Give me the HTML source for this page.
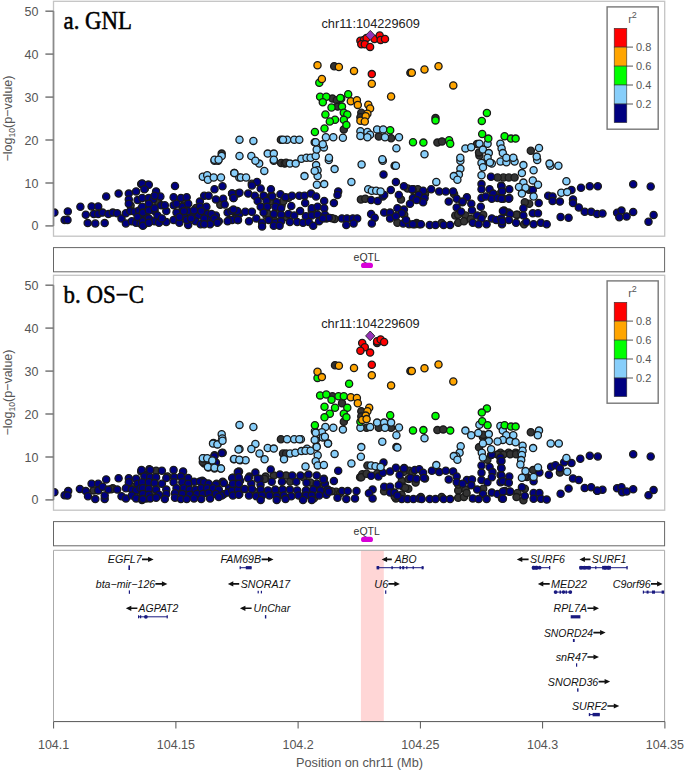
<!DOCTYPE html>
<html><head><meta charset="utf-8"><style>
html,body{margin:0;padding:0;background:#fff;}
svg{display:block;}
text{font-family:"Liberation Sans",sans-serif;}
.ax{font-size:12.5px;fill:#555;}
.ax2{font-size:12.6px;fill:#222;}
.lg{font-size:11px;fill:#555;}
.eq{font-size:10.5px;fill:#333;}
.ttl{font-family:"Liberation Serif",serif;font-size:24.5px;fill:#000;stroke:#000;stroke-width:0.5px;}
.gn{font-size:10.5px;font-style:italic;fill:#111;}
circle{stroke:#1a1a1a;stroke-width:1.3;}
</style></head><body>
<svg width="685" height="771" viewBox="0 0 685 771">
<rect x="53.5" y="1.3" width="611.2" height="234.9" fill="none" stroke="#c4c4c4" stroke-width="1.3"/>
<line x1="53.5" y1="225.9" x2="53.5" y2="11.200000000000017" stroke="#8a8a8a" stroke-width="1.7"/>
<line x1="45.4" y1="225.9" x2="53.5" y2="225.9" stroke="#777" stroke-width="1.5"/>
<text x="38.5" y="230.4" text-anchor="end" class="ax">0</text>
<line x1="45.4" y1="183.0" x2="53.5" y2="183.0" stroke="#777" stroke-width="1.5"/>
<text x="38.5" y="187.5" text-anchor="end" class="ax">10</text>
<line x1="45.4" y1="140.0" x2="53.5" y2="140.0" stroke="#777" stroke-width="1.5"/>
<text x="38.5" y="144.5" text-anchor="end" class="ax">20</text>
<line x1="45.4" y1="97.1" x2="53.5" y2="97.1" stroke="#777" stroke-width="1.5"/>
<text x="38.5" y="101.6" text-anchor="end" class="ax">30</text>
<line x1="45.4" y1="54.1" x2="53.5" y2="54.1" stroke="#777" stroke-width="1.5"/>
<text x="38.5" y="58.6" text-anchor="end" class="ax">40</text>
<line x1="45.4" y1="11.2" x2="53.5" y2="11.2" stroke="#777" stroke-width="1.5"/>
<text x="38.5" y="15.7" text-anchor="end" class="ax">50</text>
<text transform="translate(12.3,118.5) rotate(-90)" text-anchor="middle" class="ax">−log<tspan font-size="8.5" dy="3">10</tspan><tspan dy="-3">(p−value)</tspan></text>
<text x="63.6" y="28.5" class="ttl" textLength="68.4" lengthAdjust="spacingAndGlyphs">a. GNL</text>
<rect x="607.1" y="6.9" width="51.10000000000002" height="122.29999999999998" fill="none" stroke="#777" stroke-width="1.4"/>
<rect x="614.2" y="28.3" width="12.6" height="18.8" fill="#FF0000" stroke="#333" stroke-width="0.6"/>
<rect x="614.2" y="47.1" width="12.6" height="18.999999999999993" fill="#FFA500" stroke="#333" stroke-width="0.6"/>
<rect x="614.2" y="66.1" width="12.6" height="18.900000000000006" fill="#00FF00" stroke="#333" stroke-width="0.6"/>
<rect x="614.2" y="85" width="12.6" height="19" fill="#87CEFA" stroke="#333" stroke-width="0.6"/>
<rect x="614.2" y="104" width="12.6" height="18.599999999999994" fill="#000080" stroke="#333" stroke-width="0.6"/>
<line x1="626.8" y1="47.1" x2="633" y2="47.1" stroke="#555" stroke-width="1"/>
<text x="636" y="51.1" class="lg">0.8</text>
<line x1="626.8" y1="66.1" x2="633" y2="66.1" stroke="#555" stroke-width="1"/>
<text x="636" y="70.1" class="lg">0.6</text>
<line x1="626.8" y1="85" x2="633" y2="85" stroke="#555" stroke-width="1"/>
<text x="636" y="89.0" class="lg">0.4</text>
<line x1="626.8" y1="104" x2="633" y2="104" stroke="#555" stroke-width="1"/>
<text x="636" y="108.0" class="lg">0.2</text>
<text x="628.2" y="23.3" class="lg">r<tspan font-size="9" dy="-5.5">2</tspan></text>
<clipPath id="clip0"><rect x="54.3" y="1.3" width="610.3" height="234.9"/></clipPath><g clip-path="url(#clip0)">
<circle cx="281.1" cy="162.9" r="3.6" fill="#333333"/>
<circle cx="284.7" cy="163.6" r="3.6" fill="#333333"/>
<circle cx="360.9" cy="199.4" r="3.6" fill="#333333"/>
<circle cx="365.3" cy="198.7" r="3.6" fill="#333333"/>
<circle cx="407.6" cy="188.5" r="3.6" fill="#333333"/>
<circle cx="413.4" cy="189.2" r="3.6" fill="#333333"/>
<circle cx="417.8" cy="189.2" r="3.6" fill="#333333"/>
<circle cx="401.0" cy="199.4" r="3.6" fill="#333333"/>
<circle cx="334.6" cy="219.1" r="3.6" fill="#333333"/>
<circle cx="397.4" cy="222.8" r="3.6" fill="#333333"/>
<circle cx="503.4" cy="177.5" r="3.6" fill="#333333"/>
<circle cx="455.3" cy="215.5" r="3.6" fill="#333333"/>
<circle cx="465.5" cy="215.5" r="3.6" fill="#333333"/>
<circle cx="458.2" cy="222.8" r="3.6" fill="#333333"/>
<circle cx="464.0" cy="221.3" r="3.6" fill="#333333"/>
<circle cx="497.6" cy="177.5" r="3.6" fill="#333333"/>
<circle cx="508.8" cy="177.5" r="3.6" fill="#333333"/>
<circle cx="514.6" cy="177.5" r="3.6" fill="#333333"/>
<circle cx="529.2" cy="203.8" r="3.6" fill="#333333"/>
<circle cx="517.5" cy="214.7" r="3.6" fill="#333333"/>
<circle cx="524.1" cy="224.2" r="3.6" fill="#333333"/>
<circle cx="280.9" cy="139.7" r="3.6" fill="#333333"/>
<circle cx="221.7" cy="153.6" r="3.6" fill="#333333"/>
<circle cx="286.1" cy="162.8" r="3.6" fill="#333333"/>
<circle cx="314.7" cy="142.3" r="3.6" fill="#333333"/>
<circle cx="334.2" cy="66.2" r="3.6" fill="#333333"/>
<circle cx="410.4" cy="72.7" r="3.6" fill="#333333"/>
<circle cx="332.4" cy="98.6" r="3.6" fill="#333333"/>
<circle cx="336.8" cy="100.3" r="3.6" fill="#333333"/>
<circle cx="337.7" cy="106.6" r="3.6" fill="#333333"/>
<circle cx="343.8" cy="129.4" r="3.6" fill="#333333"/>
<circle cx="361.3" cy="112.8" r="3.6" fill="#333333"/>
<circle cx="360.4" cy="117.2" r="3.6" fill="#333333"/>
<circle cx="378.8" cy="136.4" r="3.6" fill="#333333"/>
<circle cx="391.1" cy="138.2" r="3.6" fill="#333333"/>
<circle cx="394.6" cy="165.7" r="3.6" fill="#333333"/>
<circle cx="435.5" cy="118.1" r="3.6" fill="#333333"/>
<circle cx="437.4" cy="142.6" r="3.6" fill="#333333"/>
<circle cx="442.0" cy="141.4" r="3.6" fill="#333333"/>
<circle cx="479.4" cy="155.4" r="3.6" fill="#333333"/>
<circle cx="530.8" cy="150.8" r="3.6" fill="#333333"/>
<circle cx="158.2" cy="202.3" r="3.6" fill="#333333"/>
<circle cx="479.0" cy="152.4" r="3.6" fill="#333333"/>
<circle cx="483.2" cy="162.8" r="3.6" fill="#333333"/>
<circle cx="477.0" cy="144.1" r="3.6" fill="#333333"/>
<circle cx="454.1" cy="194.0" r="3.6" fill="#333333"/>
<circle cx="462.4" cy="202.3" r="3.6" fill="#333333"/>
<circle cx="458.2" cy="214.8" r="3.6" fill="#333333"/>
<circle cx="470.7" cy="219.0" r="3.6" fill="#333333"/>
<circle cx="483.2" cy="214.8" r="3.6" fill="#333333"/>
<circle cx="412.5" cy="189.8" r="3.6" fill="#333333"/>
<circle cx="425.0" cy="194.0" r="3.6" fill="#333333"/>
<circle cx="404.2" cy="214.8" r="3.6" fill="#333333"/>
<circle cx="416.6" cy="223.1" r="3.6" fill="#333333"/>
<circle cx="441.6" cy="223.1" r="3.6" fill="#333333"/>
<circle cx="499.8" cy="194.0" r="3.6" fill="#333333"/>
<circle cx="504.0" cy="210.6" r="3.6" fill="#333333"/>
<circle cx="516.5" cy="214.8" r="3.6" fill="#333333"/>
<circle cx="524.8" cy="202.3" r="3.6" fill="#333333"/>
<circle cx="529.0" cy="189.8" r="3.6" fill="#333333"/>
<circle cx="180.9" cy="213.2" r="3.6" fill="#333333"/>
<circle cx="196.0" cy="208.1" r="3.6" fill="#333333"/>
<circle cx="271.6" cy="195.5" r="3.6" fill="#333333"/>
<circle cx="281.6" cy="205.6" r="3.6" fill="#333333"/>
<circle cx="266.5" cy="215.7" r="3.6" fill="#333333"/>
<circle cx="216.2" cy="220.7" r="3.6" fill="#333333"/>
<circle cx="150.7" cy="220.7" r="3.6" fill="#333333"/>
<circle cx="130.6" cy="205.6" r="3.6" fill="#333333"/>
<circle cx="311.8" cy="210.6" r="3.6" fill="#333333"/>
<circle cx="332.0" cy="218.2" r="3.6" fill="#333333"/>
<circle cx="264.1" cy="196.1" r="3.6" fill="#333333"/>
<circle cx="271.1" cy="201.3" r="3.6" fill="#333333"/>
<circle cx="278.1" cy="210.1" r="3.6" fill="#333333"/>
<circle cx="285.1" cy="217.1" r="3.6" fill="#333333"/>
<circle cx="274.6" cy="220.6" r="3.6" fill="#333333"/>
<circle cx="267.6" cy="213.6" r="3.6" fill="#333333"/>
<circle cx="288.6" cy="197.8" r="3.6" fill="#333333"/>
<circle cx="283.4" cy="201.3" r="3.6" fill="#333333"/>
<circle cx="251.8" cy="183.8" r="3.6" fill="#333333"/>
<circle cx="183.5" cy="199.6" r="3.6" fill="#333333"/>
<circle cx="220.3" cy="204.8" r="3.6" fill="#333333"/>
<circle cx="190.5" cy="213.6" r="3.6" fill="#333333"/>
<circle cx="54.4" cy="212.6" r="3.6" fill="#000080"/>
<circle cx="67.8" cy="211.4" r="3.6" fill="#000080"/>
<circle cx="64.6" cy="219.9" r="3.6" fill="#000080"/>
<circle cx="67.5" cy="219.9" r="3.6" fill="#000080"/>
<circle cx="80.4" cy="206.7" r="3.6" fill="#000080"/>
<circle cx="85.8" cy="214.7" r="3.6" fill="#000080"/>
<circle cx="87.7" cy="223.1" r="3.6" fill="#000080"/>
<circle cx="91.6" cy="206.4" r="3.6" fill="#000080"/>
<circle cx="98.2" cy="206.4" r="3.6" fill="#000080"/>
<circle cx="93.8" cy="214.0" r="3.6" fill="#000080"/>
<circle cx="98.2" cy="214.0" r="3.6" fill="#000080"/>
<circle cx="102.6" cy="212.6" r="3.6" fill="#000080"/>
<circle cx="95.3" cy="223.5" r="3.6" fill="#000080"/>
<circle cx="104.7" cy="223.1" r="3.6" fill="#000080"/>
<circle cx="106.2" cy="196.5" r="3.6" fill="#000080"/>
<circle cx="108.4" cy="214.0" r="3.6" fill="#000080"/>
<circle cx="112.8" cy="212.6" r="3.6" fill="#000080"/>
<circle cx="117.2" cy="213.3" r="3.6" fill="#000080"/>
<circle cx="118.6" cy="193.6" r="3.6" fill="#000080"/>
<circle cx="121.5" cy="218.4" r="3.6" fill="#000080"/>
<circle cx="128.8" cy="193.6" r="3.6" fill="#000080"/>
<circle cx="128.8" cy="199.4" r="3.6" fill="#000080"/>
<circle cx="128.8" cy="203.8" r="3.6" fill="#000080"/>
<circle cx="125.9" cy="213.3" r="3.6" fill="#000080"/>
<circle cx="125.9" cy="223.5" r="3.6" fill="#000080"/>
<circle cx="136.1" cy="191.4" r="3.6" fill="#000080"/>
<circle cx="137.6" cy="200.1" r="3.6" fill="#000080"/>
<circle cx="141.2" cy="184.1" r="3.6" fill="#000080"/>
<circle cx="144.9" cy="188.5" r="3.6" fill="#000080"/>
<circle cx="147.8" cy="184.8" r="3.6" fill="#000080"/>
<circle cx="147.8" cy="198.7" r="3.6" fill="#000080"/>
<circle cx="130.3" cy="211.1" r="3.6" fill="#000080"/>
<circle cx="134.7" cy="211.8" r="3.6" fill="#000080"/>
<circle cx="139.1" cy="210.4" r="3.6" fill="#000080"/>
<circle cx="143.4" cy="209.6" r="3.6" fill="#000080"/>
<circle cx="147.8" cy="208.2" r="3.6" fill="#000080"/>
<circle cx="131.8" cy="221.3" r="3.6" fill="#000080"/>
<circle cx="136.1" cy="222.8" r="3.6" fill="#000080"/>
<circle cx="140.5" cy="223.5" r="3.6" fill="#000080"/>
<circle cx="144.2" cy="224.2" r="3.6" fill="#000080"/>
<circle cx="147.8" cy="221.3" r="3.6" fill="#000080"/>
<circle cx="142.0" cy="214.7" r="3.6" fill="#000080"/>
<circle cx="146.4" cy="216.9" r="3.6" fill="#000080"/>
<circle cx="137.6" cy="216.9" r="3.6" fill="#000080"/>
<circle cx="142.2" cy="183.4" r="3.6" fill="#000080"/>
<circle cx="148.8" cy="184.8" r="3.6" fill="#000080"/>
<circle cx="144.4" cy="189.2" r="3.6" fill="#000080"/>
<circle cx="156.1" cy="191.4" r="3.6" fill="#000080"/>
<circle cx="175.0" cy="186.0" r="3.6" fill="#000080"/>
<circle cx="142.2" cy="198.0" r="3.6" fill="#000080"/>
<circle cx="148.8" cy="198.0" r="3.6" fill="#000080"/>
<circle cx="153.1" cy="199.4" r="3.6" fill="#000080"/>
<circle cx="160.4" cy="196.5" r="3.6" fill="#000080"/>
<circle cx="142.2" cy="206.7" r="3.6" fill="#000080"/>
<circle cx="149.5" cy="205.3" r="3.6" fill="#000080"/>
<circle cx="161.2" cy="205.3" r="3.6" fill="#000080"/>
<circle cx="154.6" cy="211.1" r="3.6" fill="#000080"/>
<circle cx="166.3" cy="211.1" r="3.6" fill="#000080"/>
<circle cx="142.9" cy="212.6" r="3.6" fill="#000080"/>
<circle cx="142.9" cy="221.3" r="3.6" fill="#000080"/>
<circle cx="148.8" cy="218.4" r="3.6" fill="#000080"/>
<circle cx="142.9" cy="225.7" r="3.6" fill="#000080"/>
<circle cx="154.6" cy="221.3" r="3.6" fill="#000080"/>
<circle cx="159.0" cy="222.8" r="3.6" fill="#000080"/>
<circle cx="166.3" cy="222.0" r="3.6" fill="#000080"/>
<circle cx="173.6" cy="197.2" r="3.6" fill="#000080"/>
<circle cx="180.9" cy="198.0" r="3.6" fill="#000080"/>
<circle cx="186.7" cy="197.2" r="3.6" fill="#000080"/>
<circle cx="173.6" cy="205.3" r="3.6" fill="#000080"/>
<circle cx="182.3" cy="206.7" r="3.6" fill="#000080"/>
<circle cx="188.2" cy="203.8" r="3.6" fill="#000080"/>
<circle cx="176.5" cy="212.6" r="3.6" fill="#000080"/>
<circle cx="173.6" cy="219.9" r="3.6" fill="#000080"/>
<circle cx="179.4" cy="222.8" r="3.6" fill="#000080"/>
<circle cx="183.8" cy="216.2" r="3.6" fill="#000080"/>
<circle cx="188.2" cy="225.0" r="3.6" fill="#000080"/>
<circle cx="186.7" cy="219.9" r="3.6" fill="#000080"/>
<circle cx="192.6" cy="215.5" r="3.6" fill="#000080"/>
<circle cx="198.4" cy="215.5" r="3.6" fill="#000080"/>
<circle cx="195.5" cy="221.3" r="3.6" fill="#000080"/>
<circle cx="200.6" cy="224.2" r="3.6" fill="#000080"/>
<circle cx="199.9" cy="201.6" r="3.6" fill="#000080"/>
<circle cx="204.2" cy="195.8" r="3.6" fill="#000080"/>
<circle cx="208.6" cy="195.8" r="3.6" fill="#000080"/>
<circle cx="199.9" cy="206.7" r="3.6" fill="#000080"/>
<circle cx="206.4" cy="206.7" r="3.6" fill="#000080"/>
<circle cx="207.2" cy="214.0" r="3.6" fill="#000080"/>
<circle cx="208.6" cy="219.9" r="3.6" fill="#000080"/>
<circle cx="214.5" cy="189.2" r="3.6" fill="#000080"/>
<circle cx="222.5" cy="186.3" r="3.6" fill="#000080"/>
<circle cx="215.9" cy="199.4" r="3.6" fill="#000080"/>
<circle cx="223.2" cy="198.7" r="3.6" fill="#000080"/>
<circle cx="224.7" cy="204.5" r="3.6" fill="#000080"/>
<circle cx="215.9" cy="215.5" r="3.6" fill="#000080"/>
<circle cx="218.8" cy="221.3" r="3.6" fill="#000080"/>
<circle cx="213.0" cy="221.3" r="3.6" fill="#000080"/>
<circle cx="232.0" cy="193.6" r="3.6" fill="#000080"/>
<circle cx="233.4" cy="198.0" r="3.6" fill="#000080"/>
<circle cx="237.8" cy="193.6" r="3.6" fill="#000080"/>
<circle cx="227.6" cy="212.6" r="3.6" fill="#000080"/>
<circle cx="229.1" cy="219.9" r="3.6" fill="#000080"/>
<circle cx="234.9" cy="211.1" r="3.6" fill="#000080"/>
<circle cx="234.9" cy="218.4" r="3.6" fill="#000080"/>
<circle cx="239.3" cy="214.0" r="3.6" fill="#000080"/>
<circle cx="257.0" cy="181.9" r="3.6" fill="#000080"/>
<circle cx="251.9" cy="185.5" r="3.6" fill="#000080"/>
<circle cx="260.7" cy="188.5" r="3.6" fill="#000080"/>
<circle cx="270.9" cy="189.2" r="3.6" fill="#000080"/>
<circle cx="232.2" cy="193.6" r="3.6" fill="#000080"/>
<circle cx="239.5" cy="192.8" r="3.6" fill="#000080"/>
<circle cx="248.2" cy="193.6" r="3.6" fill="#000080"/>
<circle cx="233.6" cy="198.0" r="3.6" fill="#000080"/>
<circle cx="254.8" cy="195.8" r="3.6" fill="#000080"/>
<circle cx="263.6" cy="195.8" r="3.6" fill="#000080"/>
<circle cx="272.3" cy="196.5" r="3.6" fill="#000080"/>
<circle cx="280.4" cy="194.3" r="3.6" fill="#000080"/>
<circle cx="285.5" cy="197.2" r="3.6" fill="#000080"/>
<circle cx="292.0" cy="195.8" r="3.6" fill="#000080"/>
<circle cx="299.3" cy="195.8" r="3.6" fill="#000080"/>
<circle cx="304.5" cy="195.8" r="3.6" fill="#000080"/>
<circle cx="311.0" cy="193.6" r="3.6" fill="#000080"/>
<circle cx="316.1" cy="196.5" r="3.6" fill="#000080"/>
<circle cx="324.2" cy="200.9" r="3.6" fill="#000080"/>
<circle cx="257.7" cy="200.9" r="3.6" fill="#000080"/>
<circle cx="266.5" cy="200.9" r="3.6" fill="#000080"/>
<circle cx="276.7" cy="202.3" r="3.6" fill="#000080"/>
<circle cx="305.2" cy="203.1" r="3.6" fill="#000080"/>
<circle cx="260.7" cy="206.7" r="3.6" fill="#000080"/>
<circle cx="267.2" cy="206.7" r="3.6" fill="#000080"/>
<circle cx="275.3" cy="206.7" r="3.6" fill="#000080"/>
<circle cx="281.1" cy="208.2" r="3.6" fill="#000080"/>
<circle cx="291.3" cy="206.0" r="3.6" fill="#000080"/>
<circle cx="300.1" cy="211.1" r="3.6" fill="#000080"/>
<circle cx="311.8" cy="208.2" r="3.6" fill="#000080"/>
<circle cx="317.6" cy="206.7" r="3.6" fill="#000080"/>
<circle cx="324.2" cy="208.2" r="3.6" fill="#000080"/>
<circle cx="231.5" cy="211.1" r="3.6" fill="#000080"/>
<circle cx="237.3" cy="211.1" r="3.6" fill="#000080"/>
<circle cx="245.3" cy="211.8" r="3.6" fill="#000080"/>
<circle cx="251.9" cy="211.8" r="3.6" fill="#000080"/>
<circle cx="263.6" cy="212.6" r="3.6" fill="#000080"/>
<circle cx="273.8" cy="214.0" r="3.6" fill="#000080"/>
<circle cx="281.1" cy="214.7" r="3.6" fill="#000080"/>
<circle cx="288.4" cy="214.0" r="3.6" fill="#000080"/>
<circle cx="294.2" cy="215.5" r="3.6" fill="#000080"/>
<circle cx="305.9" cy="216.2" r="3.6" fill="#000080"/>
<circle cx="311.8" cy="215.5" r="3.6" fill="#000080"/>
<circle cx="317.6" cy="214.7" r="3.6" fill="#000080"/>
<circle cx="324.9" cy="214.7" r="3.6" fill="#000080"/>
<circle cx="232.2" cy="219.9" r="3.6" fill="#000080"/>
<circle cx="238.0" cy="219.9" r="3.6" fill="#000080"/>
<circle cx="249.0" cy="221.3" r="3.6" fill="#000080"/>
<circle cx="256.3" cy="218.4" r="3.6" fill="#000080"/>
<circle cx="262.1" cy="222.8" r="3.6" fill="#000080"/>
<circle cx="268.7" cy="219.9" r="3.6" fill="#000080"/>
<circle cx="275.3" cy="222.8" r="3.6" fill="#000080"/>
<circle cx="281.1" cy="221.3" r="3.6" fill="#000080"/>
<circle cx="289.9" cy="222.0" r="3.6" fill="#000080"/>
<circle cx="297.2" cy="222.0" r="3.6" fill="#000080"/>
<circle cx="303.0" cy="222.8" r="3.6" fill="#000080"/>
<circle cx="308.8" cy="222.0" r="3.6" fill="#000080"/>
<circle cx="313.2" cy="225.7" r="3.6" fill="#000080"/>
<circle cx="319.1" cy="221.3" r="3.6" fill="#000080"/>
<circle cx="326.4" cy="218.4" r="3.6" fill="#000080"/>
<circle cx="262.1" cy="226.4" r="3.6" fill="#000080"/>
<circle cx="273.8" cy="225.7" r="3.6" fill="#000080"/>
<circle cx="279.6" cy="225.7" r="3.6" fill="#000080"/>
<circle cx="371.1" cy="200.1" r="3.6" fill="#000080"/>
<circle cx="377.7" cy="200.9" r="3.6" fill="#000080"/>
<circle cx="382.8" cy="196.5" r="3.6" fill="#000080"/>
<circle cx="384.2" cy="195.0" r="3.6" fill="#000080"/>
<circle cx="383.5" cy="174.6" r="3.6" fill="#000080"/>
<circle cx="390.8" cy="189.9" r="3.6" fill="#000080"/>
<circle cx="395.9" cy="181.9" r="3.6" fill="#000080"/>
<circle cx="398.8" cy="195.0" r="3.6" fill="#000080"/>
<circle cx="403.9" cy="186.3" r="3.6" fill="#000080"/>
<circle cx="413.4" cy="198.7" r="3.6" fill="#000080"/>
<circle cx="417.8" cy="196.5" r="3.6" fill="#000080"/>
<circle cx="397.4" cy="208.2" r="3.6" fill="#000080"/>
<circle cx="403.9" cy="209.6" r="3.6" fill="#000080"/>
<circle cx="401.8" cy="213.3" r="3.6" fill="#000080"/>
<circle cx="338.2" cy="191.4" r="3.6" fill="#000080"/>
<circle cx="337.5" cy="195.0" r="3.6" fill="#000080"/>
<circle cx="333.9" cy="203.1" r="3.6" fill="#000080"/>
<circle cx="328.8" cy="217.7" r="3.6" fill="#000080"/>
<circle cx="341.9" cy="218.4" r="3.6" fill="#000080"/>
<circle cx="347.0" cy="218.4" r="3.6" fill="#000080"/>
<circle cx="352.8" cy="218.4" r="3.6" fill="#000080"/>
<circle cx="357.2" cy="218.4" r="3.6" fill="#000080"/>
<circle cx="346.3" cy="225.0" r="3.6" fill="#000080"/>
<circle cx="353.6" cy="223.5" r="3.6" fill="#000080"/>
<circle cx="371.1" cy="214.0" r="3.6" fill="#000080"/>
<circle cx="374.7" cy="217.7" r="3.6" fill="#000080"/>
<circle cx="371.8" cy="223.5" r="3.6" fill="#000080"/>
<circle cx="384.2" cy="212.6" r="3.6" fill="#000080"/>
<circle cx="390.1" cy="212.6" r="3.6" fill="#000080"/>
<circle cx="390.1" cy="218.4" r="3.6" fill="#000080"/>
<circle cx="395.9" cy="216.2" r="3.6" fill="#000080"/>
<circle cx="403.2" cy="223.5" r="3.6" fill="#000080"/>
<circle cx="409.1" cy="224.2" r="3.6" fill="#000080"/>
<circle cx="414.9" cy="224.2" r="3.6" fill="#000080"/>
<circle cx="419.3" cy="224.2" r="3.6" fill="#000080"/>
<circle cx="406.1" cy="219.9" r="3.6" fill="#000080"/>
<circle cx="322.9" cy="218.4" r="3.6" fill="#000080"/>
<circle cx="412.2" cy="189.2" r="3.6" fill="#000080"/>
<circle cx="423.1" cy="190.7" r="3.6" fill="#000080"/>
<circle cx="431.2" cy="189.2" r="3.6" fill="#000080"/>
<circle cx="439.2" cy="191.4" r="3.6" fill="#000080"/>
<circle cx="445.8" cy="191.4" r="3.6" fill="#000080"/>
<circle cx="453.1" cy="191.4" r="3.6" fill="#000080"/>
<circle cx="412.9" cy="198.0" r="3.6" fill="#000080"/>
<circle cx="418.8" cy="195.0" r="3.6" fill="#000080"/>
<circle cx="424.6" cy="198.0" r="3.6" fill="#000080"/>
<circle cx="423.1" cy="202.3" r="3.6" fill="#000080"/>
<circle cx="416.6" cy="200.1" r="3.6" fill="#000080"/>
<circle cx="410.0" cy="203.8" r="3.6" fill="#000080"/>
<circle cx="456.7" cy="198.7" r="3.6" fill="#000080"/>
<circle cx="448.7" cy="201.6" r="3.6" fill="#000080"/>
<circle cx="466.9" cy="197.2" r="3.6" fill="#000080"/>
<circle cx="462.6" cy="201.6" r="3.6" fill="#000080"/>
<circle cx="471.3" cy="203.8" r="3.6" fill="#000080"/>
<circle cx="456.7" cy="207.4" r="3.6" fill="#000080"/>
<circle cx="472.0" cy="210.4" r="3.6" fill="#000080"/>
<circle cx="480.8" cy="206.7" r="3.6" fill="#000080"/>
<circle cx="461.1" cy="211.8" r="3.6" fill="#000080"/>
<circle cx="477.2" cy="215.5" r="3.6" fill="#000080"/>
<circle cx="481.5" cy="218.4" r="3.6" fill="#000080"/>
<circle cx="412.9" cy="224.2" r="3.6" fill="#000080"/>
<circle cx="420.9" cy="224.2" r="3.6" fill="#000080"/>
<circle cx="429.7" cy="225.0" r="3.6" fill="#000080"/>
<circle cx="435.5" cy="225.0" r="3.6" fill="#000080"/>
<circle cx="443.6" cy="225.0" r="3.6" fill="#000080"/>
<circle cx="450.1" cy="225.0" r="3.6" fill="#000080"/>
<circle cx="472.8" cy="222.8" r="3.6" fill="#000080"/>
<circle cx="478.6" cy="224.2" r="3.6" fill="#000080"/>
<circle cx="486.6" cy="224.2" r="3.6" fill="#000080"/>
<circle cx="491.8" cy="218.4" r="3.6" fill="#000080"/>
<circle cx="496.1" cy="219.9" r="3.6" fill="#000080"/>
<circle cx="502.0" cy="224.2" r="3.6" fill="#000080"/>
<circle cx="501.2" cy="218.4" r="3.6" fill="#000080"/>
<circle cx="504.2" cy="211.8" r="3.6" fill="#000080"/>
<circle cx="508.5" cy="212.6" r="3.6" fill="#000080"/>
<circle cx="481.5" cy="184.1" r="3.6" fill="#000080"/>
<circle cx="481.5" cy="189.2" r="3.6" fill="#000080"/>
<circle cx="481.5" cy="198.0" r="3.6" fill="#000080"/>
<circle cx="491.0" cy="176.8" r="3.6" fill="#000080"/>
<circle cx="501.2" cy="185.5" r="3.6" fill="#000080"/>
<circle cx="502.0" cy="190.7" r="3.6" fill="#000080"/>
<circle cx="489.6" cy="189.2" r="3.6" fill="#000080"/>
<circle cx="493.2" cy="193.6" r="3.6" fill="#000080"/>
<circle cx="485.9" cy="196.5" r="3.6" fill="#000080"/>
<circle cx="491.8" cy="198.7" r="3.6" fill="#000080"/>
<circle cx="497.6" cy="198.0" r="3.6" fill="#000080"/>
<circle cx="503.4" cy="198.7" r="3.6" fill="#000080"/>
<circle cx="509.3" cy="198.0" r="3.6" fill="#000080"/>
<circle cx="509.3" cy="189.2" r="3.6" fill="#000080"/>
<circle cx="501.5" cy="186.3" r="3.6" fill="#000080"/>
<circle cx="502.2" cy="191.4" r="3.6" fill="#000080"/>
<circle cx="501.5" cy="198.7" r="3.6" fill="#000080"/>
<circle cx="508.8" cy="198.7" r="3.6" fill="#000080"/>
<circle cx="532.8" cy="189.9" r="3.6" fill="#000080"/>
<circle cx="538.7" cy="203.1" r="3.6" fill="#000080"/>
<circle cx="523.4" cy="208.2" r="3.6" fill="#000080"/>
<circle cx="502.9" cy="211.1" r="3.6" fill="#000080"/>
<circle cx="510.2" cy="214.0" r="3.6" fill="#000080"/>
<circle cx="523.4" cy="215.5" r="3.6" fill="#000080"/>
<circle cx="532.8" cy="213.3" r="3.6" fill="#000080"/>
<circle cx="538.0" cy="213.3" r="3.6" fill="#000080"/>
<circle cx="502.2" cy="221.3" r="3.6" fill="#000080"/>
<circle cx="508.8" cy="219.9" r="3.6" fill="#000080"/>
<circle cx="516.1" cy="222.8" r="3.6" fill="#000080"/>
<circle cx="526.3" cy="222.0" r="3.6" fill="#000080"/>
<circle cx="533.6" cy="224.2" r="3.6" fill="#000080"/>
<circle cx="540.9" cy="222.8" r="3.6" fill="#000080"/>
<circle cx="546.7" cy="224.2" r="3.6" fill="#000080"/>
<circle cx="548.2" cy="195.8" r="3.6" fill="#000080"/>
<circle cx="552.6" cy="196.5" r="3.6" fill="#000080"/>
<circle cx="552.6" cy="200.9" r="3.6" fill="#000080"/>
<circle cx="559.9" cy="201.6" r="3.6" fill="#000080"/>
<circle cx="571.5" cy="189.9" r="3.6" fill="#000080"/>
<circle cx="573.0" cy="199.4" r="3.6" fill="#000080"/>
<circle cx="573.0" cy="203.1" r="3.6" fill="#000080"/>
<circle cx="578.8" cy="207.4" r="3.6" fill="#000080"/>
<circle cx="581.0" cy="187.7" r="3.6" fill="#000080"/>
<circle cx="589.8" cy="186.3" r="3.6" fill="#000080"/>
<circle cx="597.8" cy="186.3" r="3.6" fill="#000080"/>
<circle cx="584.7" cy="211.8" r="3.6" fill="#000080"/>
<circle cx="591.2" cy="211.8" r="3.6" fill="#000080"/>
<circle cx="597.1" cy="214.0" r="3.6" fill="#000080"/>
<circle cx="560.6" cy="216.9" r="3.6" fill="#000080"/>
<circle cx="568.6" cy="217.7" r="3.6" fill="#000080"/>
<circle cx="633.2" cy="184.3" r="3.6" fill="#000080"/>
<circle cx="650.7" cy="186.5" r="3.6" fill="#000080"/>
<circle cx="602.5" cy="213.5" r="3.6" fill="#000080"/>
<circle cx="617.1" cy="212.8" r="3.6" fill="#000080"/>
<circle cx="621.5" cy="210.6" r="3.6" fill="#000080"/>
<circle cx="619.3" cy="217.2" r="3.6" fill="#000080"/>
<circle cx="626.6" cy="216.4" r="3.6" fill="#000080"/>
<circle cx="633.2" cy="212.0" r="3.6" fill="#000080"/>
<circle cx="653.6" cy="215.0" r="3.6" fill="#000080"/>
<circle cx="648.5" cy="221.8" r="3.6" fill="#000080"/>
<circle cx="154.6" cy="195.8" r="3.6" fill="#000080"/>
<circle cx="148.8" cy="203.8" r="3.6" fill="#000080"/>
<circle cx="164.8" cy="205.3" r="3.6" fill="#000080"/>
<circle cx="157.5" cy="215.5" r="3.6" fill="#000080"/>
<circle cx="148.8" cy="210.4" r="3.6" fill="#000080"/>
<circle cx="188.2" cy="211.1" r="3.6" fill="#000080"/>
<circle cx="194.0" cy="210.4" r="3.6" fill="#000080"/>
<circle cx="183.8" cy="211.1" r="3.6" fill="#000080"/>
<circle cx="191.1" cy="218.4" r="3.6" fill="#000080"/>
<circle cx="201.3" cy="211.1" r="3.6" fill="#000080"/>
<circle cx="204.2" cy="218.4" r="3.6" fill="#000080"/>
<circle cx="211.5" cy="214.0" r="3.6" fill="#000080"/>
<circle cx="214.5" cy="218.4" r="3.6" fill="#000080"/>
<circle cx="217.4" cy="222.8" r="3.6" fill="#000080"/>
<circle cx="210.1" cy="224.2" r="3.6" fill="#000080"/>
<circle cx="204.2" cy="224.2" r="3.6" fill="#000080"/>
<circle cx="233.4" cy="209.6" r="3.6" fill="#000080"/>
<circle cx="237.8" cy="219.9" r="3.6" fill="#000080"/>
<circle cx="227.6" cy="221.3" r="3.6" fill="#000080"/>
<circle cx="176.5" cy="203.8" r="3.6" fill="#000080"/>
<circle cx="179.4" cy="216.9" r="3.6" fill="#000080"/>
<circle cx="154.6" cy="208.2" r="3.6" fill="#000080"/>
<circle cx="161.9" cy="218.4" r="3.6" fill="#000080"/>
<circle cx="148.8" cy="222.8" r="3.6" fill="#000080"/>
<circle cx="202.8" cy="176.8" r="3.6" fill="#87CEFA"/>
<circle cx="207.2" cy="175.3" r="3.6" fill="#87CEFA"/>
<circle cx="207.9" cy="179.7" r="3.6" fill="#87CEFA"/>
<circle cx="213.7" cy="177.5" r="3.6" fill="#87CEFA"/>
<circle cx="221.0" cy="177.5" r="3.6" fill="#87CEFA"/>
<circle cx="214.5" cy="160.7" r="3.6" fill="#87CEFA"/>
<circle cx="218.1" cy="160.7" r="3.6" fill="#87CEFA"/>
<circle cx="234.2" cy="173.1" r="3.6" fill="#87CEFA"/>
<circle cx="239.3" cy="177.5" r="3.6" fill="#87CEFA"/>
<circle cx="259.2" cy="163.6" r="3.6" fill="#87CEFA"/>
<circle cx="264.3" cy="170.9" r="3.6" fill="#87CEFA"/>
<circle cx="234.4" cy="173.1" r="3.6" fill="#87CEFA"/>
<circle cx="240.9" cy="177.5" r="3.6" fill="#87CEFA"/>
<circle cx="246.1" cy="177.5" r="3.6" fill="#87CEFA"/>
<circle cx="273.8" cy="160.7" r="3.6" fill="#87CEFA"/>
<circle cx="289.9" cy="163.6" r="3.6" fill="#87CEFA"/>
<circle cx="295.7" cy="163.6" r="3.6" fill="#87CEFA"/>
<circle cx="304.5" cy="176.1" r="3.6" fill="#87CEFA"/>
<circle cx="316.1" cy="165.1" r="3.6" fill="#87CEFA"/>
<circle cx="317.6" cy="170.2" r="3.6" fill="#87CEFA"/>
<circle cx="317.6" cy="176.1" r="3.6" fill="#87CEFA"/>
<circle cx="316.9" cy="184.8" r="3.6" fill="#87CEFA"/>
<circle cx="324.2" cy="184.1" r="3.6" fill="#87CEFA"/>
<circle cx="314.7" cy="170.9" r="3.6" fill="#87CEFA"/>
<circle cx="328.8" cy="160.0" r="3.6" fill="#87CEFA"/>
<circle cx="334.6" cy="169.1" r="3.6" fill="#87CEFA"/>
<circle cx="351.4" cy="181.9" r="3.6" fill="#87CEFA"/>
<circle cx="361.6" cy="164.4" r="3.6" fill="#87CEFA"/>
<circle cx="382.8" cy="160.7" r="3.6" fill="#87CEFA"/>
<circle cx="395.9" cy="165.8" r="3.6" fill="#87CEFA"/>
<circle cx="368.2" cy="189.2" r="3.6" fill="#87CEFA"/>
<circle cx="371.8" cy="190.7" r="3.6" fill="#87CEFA"/>
<circle cx="376.2" cy="190.7" r="3.6" fill="#87CEFA"/>
<circle cx="380.6" cy="191.4" r="3.6" fill="#87CEFA"/>
<circle cx="460.4" cy="160.7" r="3.6" fill="#87CEFA"/>
<circle cx="460.4" cy="168.8" r="3.6" fill="#87CEFA"/>
<circle cx="458.9" cy="174.6" r="3.6" fill="#87CEFA"/>
<circle cx="453.8" cy="176.1" r="3.6" fill="#87CEFA"/>
<circle cx="457.4" cy="179.7" r="3.6" fill="#87CEFA"/>
<circle cx="436.3" cy="181.9" r="3.6" fill="#87CEFA"/>
<circle cx="481.5" cy="162.9" r="3.6" fill="#87CEFA"/>
<circle cx="483.0" cy="167.3" r="3.6" fill="#87CEFA"/>
<circle cx="491.8" cy="163.6" r="3.6" fill="#87CEFA"/>
<circle cx="500.5" cy="161.5" r="3.6" fill="#87CEFA"/>
<circle cx="506.4" cy="162.2" r="3.6" fill="#87CEFA"/>
<circle cx="481.5" cy="175.3" r="3.6" fill="#87CEFA"/>
<circle cx="514.6" cy="161.5" r="3.6" fill="#87CEFA"/>
<circle cx="523.4" cy="165.1" r="3.6" fill="#87CEFA"/>
<circle cx="521.9" cy="173.1" r="3.6" fill="#87CEFA"/>
<circle cx="533.6" cy="170.2" r="3.6" fill="#87CEFA"/>
<circle cx="523.4" cy="182.6" r="3.6" fill="#87CEFA"/>
<circle cx="519.0" cy="187.0" r="3.6" fill="#87CEFA"/>
<circle cx="525.5" cy="187.7" r="3.6" fill="#87CEFA"/>
<circle cx="532.8" cy="180.4" r="3.6" fill="#87CEFA"/>
<circle cx="538.0" cy="184.8" r="3.6" fill="#87CEFA"/>
<circle cx="521.9" cy="193.6" r="3.6" fill="#87CEFA"/>
<circle cx="533.6" cy="196.5" r="3.6" fill="#87CEFA"/>
<circle cx="550.4" cy="165.8" r="3.6" fill="#87CEFA"/>
<circle cx="558.4" cy="165.8" r="3.6" fill="#87CEFA"/>
<circle cx="566.4" cy="181.2" r="3.6" fill="#87CEFA"/>
<circle cx="561.3" cy="192.8" r="3.6" fill="#87CEFA"/>
<circle cx="567.2" cy="192.1" r="3.6" fill="#87CEFA"/>
<circle cx="537.2" cy="160.0" r="3.6" fill="#87CEFA"/>
<circle cx="239.5" cy="139.7" r="3.6" fill="#87CEFA"/>
<circle cx="253.4" cy="140.9" r="3.6" fill="#87CEFA"/>
<circle cx="287.1" cy="139.7" r="3.6" fill="#87CEFA"/>
<circle cx="294.2" cy="139.7" r="3.6" fill="#87CEFA"/>
<circle cx="299.3" cy="139.7" r="3.6" fill="#87CEFA"/>
<circle cx="221.7" cy="156.0" r="3.6" fill="#87CEFA"/>
<circle cx="214.5" cy="159.7" r="3.6" fill="#87CEFA"/>
<circle cx="218.6" cy="159.7" r="3.6" fill="#87CEFA"/>
<circle cx="239.5" cy="156.0" r="3.6" fill="#87CEFA"/>
<circle cx="251.3" cy="156.0" r="3.6" fill="#87CEFA"/>
<circle cx="255.4" cy="160.7" r="3.6" fill="#87CEFA"/>
<circle cx="267.7" cy="153.6" r="3.6" fill="#87CEFA"/>
<circle cx="273.8" cy="153.6" r="3.6" fill="#87CEFA"/>
<circle cx="273.8" cy="159.7" r="3.6" fill="#87CEFA"/>
<circle cx="301.4" cy="158.7" r="3.6" fill="#87CEFA"/>
<circle cx="306.5" cy="157.7" r="3.6" fill="#87CEFA"/>
<circle cx="310.6" cy="157.7" r="3.6" fill="#87CEFA"/>
<circle cx="315.7" cy="156.0" r="3.6" fill="#87CEFA"/>
<circle cx="316.7" cy="149.5" r="3.6" fill="#87CEFA"/>
<circle cx="323.9" cy="147.4" r="3.6" fill="#87CEFA"/>
<circle cx="325.9" cy="137.2" r="3.6" fill="#87CEFA"/>
<circle cx="329.0" cy="157.7" r="3.6" fill="#87CEFA"/>
<circle cx="333.3" cy="137.3" r="3.6" fill="#87CEFA"/>
<circle cx="342.9" cy="137.7" r="3.6" fill="#87CEFA"/>
<circle cx="360.4" cy="131.2" r="3.6" fill="#87CEFA"/>
<circle cx="360.4" cy="135.9" r="3.6" fill="#87CEFA"/>
<circle cx="367.4" cy="132.0" r="3.6" fill="#87CEFA"/>
<circle cx="370.1" cy="134.7" r="3.6" fill="#87CEFA"/>
<circle cx="367.4" cy="137.3" r="3.6" fill="#87CEFA"/>
<circle cx="377.1" cy="129.4" r="3.6" fill="#87CEFA"/>
<circle cx="383.2" cy="129.4" r="3.6" fill="#87CEFA"/>
<circle cx="385.0" cy="137.3" r="3.6" fill="#87CEFA"/>
<circle cx="399.0" cy="137.3" r="3.6" fill="#87CEFA"/>
<circle cx="396.4" cy="148.2" r="3.6" fill="#87CEFA"/>
<circle cx="382.3" cy="159.2" r="3.6" fill="#87CEFA"/>
<circle cx="322.8" cy="144.3" r="3.6" fill="#87CEFA"/>
<circle cx="424.5" cy="154.3" r="3.6" fill="#87CEFA"/>
<circle cx="460.3" cy="157.8" r="3.6" fill="#87CEFA"/>
<circle cx="465.4" cy="148.4" r="3.6" fill="#87CEFA"/>
<circle cx="471.2" cy="147.3" r="3.6" fill="#87CEFA"/>
<circle cx="479.4" cy="143.8" r="3.6" fill="#87CEFA"/>
<circle cx="487.6" cy="143.8" r="3.6" fill="#87CEFA"/>
<circle cx="482.9" cy="149.6" r="3.6" fill="#87CEFA"/>
<circle cx="488.8" cy="153.1" r="3.6" fill="#87CEFA"/>
<circle cx="487.6" cy="157.8" r="3.6" fill="#87CEFA"/>
<circle cx="489.9" cy="162.5" r="3.6" fill="#87CEFA"/>
<circle cx="500.4" cy="143.8" r="3.6" fill="#87CEFA"/>
<circle cx="501.6" cy="148.4" r="3.6" fill="#87CEFA"/>
<circle cx="502.8" cy="153.1" r="3.6" fill="#87CEFA"/>
<circle cx="506.3" cy="157.8" r="3.6" fill="#87CEFA"/>
<circle cx="513.3" cy="157.8" r="3.6" fill="#87CEFA"/>
<circle cx="539.0" cy="148.0" r="3.6" fill="#87CEFA"/>
<circle cx="536.7" cy="156.6" r="3.6" fill="#87CEFA"/>
<circle cx="549.5" cy="163.6" r="3.6" fill="#87CEFA"/>
<circle cx="283.0" cy="139.7" r="3.6" fill="#87CEFA"/>
<circle cx="315.7" cy="142.3" r="3.6" fill="#87CEFA"/>
<circle cx="319.3" cy="82.8" r="3.6" fill="#00FF00"/>
<circle cx="320.1" cy="96.8" r="3.6" fill="#00FF00"/>
<circle cx="326.3" cy="96.8" r="3.6" fill="#00FF00"/>
<circle cx="348.2" cy="94.2" r="3.6" fill="#00FF00"/>
<circle cx="341.2" cy="98.6" r="3.6" fill="#00FF00"/>
<circle cx="322.8" cy="102.3" r="3.6" fill="#00FF00"/>
<circle cx="340.3" cy="97.9" r="3.6" fill="#00FF00"/>
<circle cx="331.5" cy="107.5" r="3.6" fill="#00FF00"/>
<circle cx="342.0" cy="106.6" r="3.6" fill="#00FF00"/>
<circle cx="325.4" cy="114.5" r="3.6" fill="#00FF00"/>
<circle cx="335.0" cy="119.8" r="3.6" fill="#00FF00"/>
<circle cx="329.8" cy="121.5" r="3.6" fill="#00FF00"/>
<circle cx="343.8" cy="112.8" r="3.6" fill="#00FF00"/>
<circle cx="347.3" cy="114.5" r="3.6" fill="#00FF00"/>
<circle cx="343.8" cy="119.8" r="3.6" fill="#00FF00"/>
<circle cx="346.4" cy="125.0" r="3.6" fill="#00FF00"/>
<circle cx="324.5" cy="128.5" r="3.6" fill="#00FF00"/>
<circle cx="314.9" cy="132.0" r="3.6" fill="#00FF00"/>
<circle cx="390.2" cy="130.3" r="3.6" fill="#00FF00"/>
<circle cx="413.0" cy="142.2" r="3.6" fill="#00FF00"/>
<circle cx="435.5" cy="120.4" r="3.6" fill="#00FF00"/>
<circle cx="486.9" cy="112.9" r="3.6" fill="#00FF00"/>
<circle cx="481.8" cy="120.9" r="3.6" fill="#00FF00"/>
<circle cx="482.2" cy="134.0" r="3.6" fill="#00FF00"/>
<circle cx="488.3" cy="138.6" r="3.6" fill="#00FF00"/>
<circle cx="504.6" cy="136.3" r="3.6" fill="#00FF00"/>
<circle cx="511.0" cy="138.6" r="3.6" fill="#00FF00"/>
<circle cx="515.6" cy="138.6" r="3.6" fill="#00FF00"/>
<circle cx="423.4" cy="142.6" r="3.6" fill="#00FF00"/>
<circle cx="449.1" cy="140.3" r="3.6" fill="#00FF00"/>
<circle cx="450.2" cy="143.8" r="3.6" fill="#00FF00"/>
<circle cx="317.5" cy="65.3" r="3.6" fill="#FFA500"/>
<circle cx="338.9" cy="67.0" r="3.6" fill="#FFA500"/>
<circle cx="354.0" cy="70.9" r="3.6" fill="#FFA500"/>
<circle cx="321.9" cy="79.0" r="3.6" fill="#FFA500"/>
<circle cx="371.8" cy="83.7" r="3.6" fill="#FFA500"/>
<circle cx="411.8" cy="72.7" r="3.6" fill="#FFA500"/>
<circle cx="391.1" cy="96.5" r="3.6" fill="#FFA500"/>
<circle cx="350.8" cy="101.2" r="3.6" fill="#FFA500"/>
<circle cx="356.9" cy="100.3" r="3.6" fill="#FFA500"/>
<circle cx="368.3" cy="104.7" r="3.6" fill="#FFA500"/>
<circle cx="357.8" cy="104.9" r="3.6" fill="#FFA500"/>
<circle cx="370.1" cy="108.4" r="3.6" fill="#FFA500"/>
<circle cx="367.4" cy="113.7" r="3.6" fill="#FFA500"/>
<circle cx="365.7" cy="116.3" r="3.6" fill="#FFA500"/>
<circle cx="360.4" cy="120.7" r="3.6" fill="#FFA500"/>
<circle cx="364.8" cy="121.5" r="3.6" fill="#FFA500"/>
<circle cx="424.5" cy="69.5" r="3.6" fill="#FFA500"/>
<circle cx="438.5" cy="66.2" r="3.6" fill="#FFA500"/>
<circle cx="453.3" cy="85.4" r="3.6" fill="#FFA500"/>
<circle cx="360.4" cy="40.8" r="3.6" fill="#FF0000"/>
<circle cx="363.9" cy="39.9" r="3.6" fill="#FF0000"/>
<circle cx="366.6" cy="38.1" r="3.6" fill="#FF0000"/>
<circle cx="361.3" cy="44.3" r="3.6" fill="#FF0000"/>
<circle cx="364.8" cy="44.3" r="3.6" fill="#FF0000"/>
<circle cx="370.1" cy="46.9" r="3.6" fill="#FF0000"/>
<circle cx="374.5" cy="39.0" r="3.6" fill="#FF0000"/>
<circle cx="379.7" cy="35.5" r="3.6" fill="#FF0000"/>
<circle cx="380.6" cy="39.9" r="3.6" fill="#FF0000"/>
<circle cx="385.0" cy="39.0" r="3.6" fill="#FF0000"/>
<circle cx="371.8" cy="74.1" r="3.6" fill="#FF0000"/>
</g>
<path d="M370.3 30.4L374.90000000000003 35.3L370.3 40.199999999999996L365.7 35.3Z" fill="#9632B8" stroke="#222" stroke-width="0.9"/>
<text x="321.4" y="27.8" class="ax2" textLength="98.5" lengthAdjust="spacingAndGlyphs">chr11:104229609</text>
<rect x="53.5" y="247.6" width="611.1" height="24.2" fill="none" stroke="#666" stroke-width="1"/>
<text x="366.7" y="261" text-anchor="middle" class="eq">eQTL</text>
<rect x="361" y="262.8" width="12" height="5.2" rx="2.6" fill="#D800D8"/>
<rect x="53.5" y="275.3" width="611.2" height="234.9" fill="none" stroke="#c4c4c4" stroke-width="1.3"/>
<line x1="53.5" y1="499.9" x2="53.5" y2="285.2" stroke="#8a8a8a" stroke-width="1.7"/>
<line x1="45.4" y1="499.9" x2="53.5" y2="499.9" stroke="#777" stroke-width="1.5"/>
<text x="38.5" y="504.4" text-anchor="end" class="ax">0</text>
<line x1="45.4" y1="457.0" x2="53.5" y2="457.0" stroke="#777" stroke-width="1.5"/>
<text x="38.5" y="461.5" text-anchor="end" class="ax">10</text>
<line x1="45.4" y1="414.0" x2="53.5" y2="414.0" stroke="#777" stroke-width="1.5"/>
<text x="38.5" y="418.5" text-anchor="end" class="ax">20</text>
<line x1="45.4" y1="371.1" x2="53.5" y2="371.1" stroke="#777" stroke-width="1.5"/>
<text x="38.5" y="375.6" text-anchor="end" class="ax">30</text>
<line x1="45.4" y1="328.1" x2="53.5" y2="328.1" stroke="#777" stroke-width="1.5"/>
<text x="38.5" y="332.6" text-anchor="end" class="ax">40</text>
<line x1="45.4" y1="285.2" x2="53.5" y2="285.2" stroke="#777" stroke-width="1.5"/>
<text x="38.5" y="289.7" text-anchor="end" class="ax">50</text>
<text transform="translate(12.3,392.5) rotate(-90)" text-anchor="middle" class="ax">−log<tspan font-size="8.5" dy="3">10</tspan><tspan dy="-3">(p−value)</tspan></text>
<text x="63.6" y="302.5" class="ttl" textLength="80.3" lengthAdjust="spacingAndGlyphs">b. OS−C</text>
<rect x="607.1" y="280.9" width="51.10000000000002" height="122.30000000000001" fill="none" stroke="#777" stroke-width="1.4"/>
<rect x="614.2" y="302.3" width="12.6" height="18.8" fill="#FF0000" stroke="#333" stroke-width="0.6"/>
<rect x="614.2" y="321.1" width="12.6" height="18.999999999999993" fill="#FFA500" stroke="#333" stroke-width="0.6"/>
<rect x="614.2" y="340.1" width="12.6" height="18.900000000000006" fill="#00FF00" stroke="#333" stroke-width="0.6"/>
<rect x="614.2" y="359" width="12.6" height="19" fill="#87CEFA" stroke="#333" stroke-width="0.6"/>
<rect x="614.2" y="378" width="12.6" height="18.599999999999994" fill="#000080" stroke="#333" stroke-width="0.6"/>
<line x1="626.8" y1="321.1" x2="633" y2="321.1" stroke="#555" stroke-width="1"/>
<text x="636" y="325.1" class="lg">0.8</text>
<line x1="626.8" y1="340.1" x2="633" y2="340.1" stroke="#555" stroke-width="1"/>
<text x="636" y="344.1" class="lg">0.6</text>
<line x1="626.8" y1="359" x2="633" y2="359" stroke="#555" stroke-width="1"/>
<text x="636" y="363.0" class="lg">0.4</text>
<line x1="626.8" y1="378" x2="633" y2="378" stroke="#555" stroke-width="1"/>
<text x="636" y="382.0" class="lg">0.2</text>
<text x="628.2" y="297.3" class="lg">r<tspan font-size="9" dy="-5.5">2</tspan></text>
<clipPath id="clip274"><rect x="54.3" y="275.3" width="610.3" height="234.9"/></clipPath><g clip-path="url(#clip274)">
<circle cx="377.1" cy="342.9" r="3.6" fill="#333333"/>
<circle cx="335.0" cy="365.2" r="3.6" fill="#333333"/>
<circle cx="410.4" cy="371.0" r="3.6" fill="#333333"/>
<circle cx="361.3" cy="411.2" r="3.6" fill="#333333"/>
<circle cx="361.3" cy="416.4" r="3.6" fill="#333333"/>
<circle cx="332.4" cy="396.3" r="3.6" fill="#333333"/>
<circle cx="342.0" cy="403.3" r="3.6" fill="#333333"/>
<circle cx="343.8" cy="421.7" r="3.6" fill="#333333"/>
<circle cx="366.6" cy="427.8" r="3.6" fill="#333333"/>
<circle cx="378.8" cy="427.8" r="3.6" fill="#333333"/>
<circle cx="391.1" cy="427.8" r="3.6" fill="#333333"/>
<circle cx="396.4" cy="447.1" r="3.6" fill="#333333"/>
<circle cx="437.4" cy="430.1" r="3.6" fill="#333333"/>
<circle cx="443.2" cy="429.4" r="3.6" fill="#333333"/>
<circle cx="482.9" cy="436.9" r="3.6" fill="#333333"/>
<circle cx="530.8" cy="432.2" r="3.6" fill="#333333"/>
<circle cx="500.4" cy="452.8" r="3.6" fill="#333333"/>
<circle cx="508.6" cy="452.8" r="3.6" fill="#333333"/>
<circle cx="515.6" cy="452.8" r="3.6" fill="#333333"/>
<circle cx="280.9" cy="439.2" r="3.6" fill="#333333"/>
<circle cx="283.0" cy="453.5" r="3.6" fill="#333333"/>
<circle cx="286.1" cy="453.5" r="3.6" fill="#333333"/>
<circle cx="204.3" cy="463.4" r="3.6" fill="#333333"/>
<circle cx="265.6" cy="476.6" r="3.6" fill="#333333"/>
<circle cx="273.8" cy="475.6" r="3.6" fill="#333333"/>
<circle cx="286.1" cy="475.6" r="3.6" fill="#333333"/>
<circle cx="93.8" cy="490.4" r="3.6" fill="#333333"/>
<circle cx="112.8" cy="488.2" r="3.6" fill="#333333"/>
<circle cx="140.5" cy="493.3" r="3.6" fill="#333333"/>
<circle cx="156.1" cy="470.7" r="3.6" fill="#333333"/>
<circle cx="202.8" cy="461.9" r="3.6" fill="#333333"/>
<circle cx="273.8" cy="494.0" r="3.6" fill="#333333"/>
<circle cx="278.2" cy="495.5" r="3.6" fill="#333333"/>
<circle cx="311.8" cy="492.6" r="3.6" fill="#333333"/>
<circle cx="367.4" cy="465.5" r="3.6" fill="#333333"/>
<circle cx="336.1" cy="491.8" r="3.6" fill="#333333"/>
<circle cx="360.1" cy="477.2" r="3.6" fill="#333333"/>
<circle cx="362.3" cy="474.3" r="3.6" fill="#333333"/>
<circle cx="409.1" cy="470.7" r="3.6" fill="#333333"/>
<circle cx="401.8" cy="480.9" r="3.6" fill="#333333"/>
<circle cx="403.2" cy="486.7" r="3.6" fill="#333333"/>
<circle cx="395.9" cy="498.4" r="3.6" fill="#333333"/>
<circle cx="503.4" cy="454.6" r="3.6" fill="#333333"/>
<circle cx="497.6" cy="454.6" r="3.6" fill="#333333"/>
<circle cx="458.2" cy="490.4" r="3.6" fill="#333333"/>
<circle cx="465.5" cy="489.6" r="3.6" fill="#333333"/>
<circle cx="458.2" cy="497.7" r="3.6" fill="#333333"/>
<circle cx="464.0" cy="496.9" r="3.6" fill="#333333"/>
<circle cx="559.9" cy="472.6" r="3.6" fill="#333333"/>
<circle cx="510.2" cy="454.3" r="3.6" fill="#333333"/>
<circle cx="516.1" cy="454.3" r="3.6" fill="#333333"/>
<circle cx="527.0" cy="476.9" r="3.6" fill="#333333"/>
<circle cx="517.5" cy="493.0" r="3.6" fill="#333333"/>
<circle cx="523.4" cy="500.3" r="3.6" fill="#333333"/>
<circle cx="404.2" cy="468.0" r="3.6" fill="#333333"/>
<circle cx="412.5" cy="472.2" r="3.6" fill="#333333"/>
<circle cx="425.0" cy="478.4" r="3.6" fill="#333333"/>
<circle cx="408.3" cy="488.8" r="3.6" fill="#333333"/>
<circle cx="420.8" cy="497.1" r="3.6" fill="#333333"/>
<circle cx="441.6" cy="497.1" r="3.6" fill="#333333"/>
<circle cx="458.2" cy="484.6" r="3.6" fill="#333333"/>
<circle cx="466.6" cy="493.0" r="3.6" fill="#333333"/>
<circle cx="483.2" cy="488.8" r="3.6" fill="#333333"/>
<circle cx="479.0" cy="447.2" r="3.6" fill="#333333"/>
<circle cx="483.2" cy="434.7" r="3.6" fill="#333333"/>
<circle cx="487.4" cy="459.7" r="3.6" fill="#333333"/>
<circle cx="524.8" cy="476.3" r="3.6" fill="#333333"/>
<circle cx="524.8" cy="488.8" r="3.6" fill="#333333"/>
<circle cx="516.5" cy="497.1" r="3.6" fill="#333333"/>
<circle cx="533.1" cy="470.1" r="3.6" fill="#333333"/>
<circle cx="131.8" cy="486.6" r="3.6" fill="#333333"/>
<circle cx="152.2" cy="491.7" r="3.6" fill="#333333"/>
<circle cx="167.5" cy="476.4" r="3.6" fill="#333333"/>
<circle cx="182.9" cy="491.7" r="3.6" fill="#333333"/>
<circle cx="203.3" cy="489.2" r="3.6" fill="#333333"/>
<circle cx="223.7" cy="494.3" r="3.6" fill="#333333"/>
<circle cx="254.4" cy="491.7" r="3.6" fill="#333333"/>
<circle cx="264.6" cy="479.0" r="3.6" fill="#333333"/>
<circle cx="274.8" cy="491.7" r="3.6" fill="#333333"/>
<circle cx="290.2" cy="481.5" r="3.6" fill="#333333"/>
<circle cx="305.5" cy="494.3" r="3.6" fill="#333333"/>
<circle cx="111.3" cy="489.2" r="3.6" fill="#333333"/>
<circle cx="303.5" cy="477.3" r="3.6" fill="#333333"/>
<circle cx="310.5" cy="482.6" r="3.6" fill="#333333"/>
<circle cx="317.5" cy="486.1" r="3.6" fill="#333333"/>
<circle cx="307.0" cy="491.3" r="3.6" fill="#333333"/>
<circle cx="321.0" cy="493.1" r="3.6" fill="#333333"/>
<circle cx="314.0" cy="498.3" r="3.6" fill="#333333"/>
<circle cx="331.5" cy="491.3" r="3.6" fill="#333333"/>
<circle cx="340.3" cy="493.1" r="3.6" fill="#333333"/>
<circle cx="361.3" cy="477.3" r="3.6" fill="#333333"/>
<circle cx="366.6" cy="473.8" r="3.6" fill="#333333"/>
<circle cx="377.1" cy="473.8" r="3.6" fill="#333333"/>
<circle cx="403.4" cy="472.0" r="3.6" fill="#333333"/>
<circle cx="408.6" cy="479.1" r="3.6" fill="#333333"/>
<circle cx="405.1" cy="487.8" r="3.6" fill="#333333"/>
<circle cx="401.6" cy="494.8" r="3.6" fill="#333333"/>
<circle cx="415.6" cy="482.6" r="3.6" fill="#333333"/>
<circle cx="394.6" cy="496.6" r="3.6" fill="#333333"/>
<circle cx="384.1" cy="491.3" r="3.6" fill="#333333"/>
<circle cx="491.1" cy="455.1" r="3.6" fill="#000080"/>
<circle cx="500.4" cy="457.5" r="3.6" fill="#000080"/>
<circle cx="222.7" cy="452.7" r="3.6" fill="#000080"/>
<circle cx="214.5" cy="455.2" r="3.6" fill="#000080"/>
<circle cx="270.7" cy="469.5" r="3.6" fill="#000080"/>
<circle cx="239.0" cy="471.5" r="3.6" fill="#000080"/>
<circle cx="255.4" cy="472.6" r="3.6" fill="#000080"/>
<circle cx="249.3" cy="476.6" r="3.6" fill="#000080"/>
<circle cx="232.9" cy="477.7" r="3.6" fill="#000080"/>
<circle cx="222.7" cy="481.7" r="3.6" fill="#000080"/>
<circle cx="202.3" cy="480.7" r="3.6" fill="#000080"/>
<circle cx="194.1" cy="481.7" r="3.6" fill="#000080"/>
<circle cx="208.4" cy="483.8" r="3.6" fill="#000080"/>
<circle cx="216.6" cy="483.8" r="3.6" fill="#000080"/>
<circle cx="240.1" cy="480.7" r="3.6" fill="#000080"/>
<circle cx="259.5" cy="478.7" r="3.6" fill="#000080"/>
<circle cx="279.9" cy="474.6" r="3.6" fill="#000080"/>
<circle cx="292.2" cy="475.6" r="3.6" fill="#000080"/>
<circle cx="300.4" cy="475.6" r="3.6" fill="#000080"/>
<circle cx="308.5" cy="474.6" r="3.6" fill="#000080"/>
<circle cx="316.7" cy="475.6" r="3.6" fill="#000080"/>
<circle cx="323.9" cy="478.7" r="3.6" fill="#000080"/>
<circle cx="271.7" cy="481.7" r="3.6" fill="#000080"/>
<circle cx="282.0" cy="481.7" r="3.6" fill="#000080"/>
<circle cx="296.3" cy="481.7" r="3.6" fill="#000080"/>
<circle cx="306.5" cy="482.8" r="3.6" fill="#000080"/>
<circle cx="316.7" cy="483.8" r="3.6" fill="#000080"/>
<circle cx="324.9" cy="483.8" r="3.6" fill="#000080"/>
<circle cx="251.3" cy="483.8" r="3.6" fill="#000080"/>
<circle cx="260.5" cy="484.8" r="3.6" fill="#000080"/>
<circle cx="54.4" cy="492.3" r="3.6" fill="#000080"/>
<circle cx="68.2" cy="491.1" r="3.6" fill="#000080"/>
<circle cx="64.6" cy="495.2" r="3.6" fill="#000080"/>
<circle cx="67.5" cy="495.5" r="3.6" fill="#000080"/>
<circle cx="79.9" cy="488.9" r="3.6" fill="#000080"/>
<circle cx="85.8" cy="491.1" r="3.6" fill="#000080"/>
<circle cx="88.0" cy="496.2" r="3.6" fill="#000080"/>
<circle cx="91.6" cy="483.8" r="3.6" fill="#000080"/>
<circle cx="98.2" cy="483.8" r="3.6" fill="#000080"/>
<circle cx="98.2" cy="490.4" r="3.6" fill="#000080"/>
<circle cx="102.6" cy="486.7" r="3.6" fill="#000080"/>
<circle cx="95.3" cy="499.1" r="3.6" fill="#000080"/>
<circle cx="104.7" cy="499.1" r="3.6" fill="#000080"/>
<circle cx="104.7" cy="495.5" r="3.6" fill="#000080"/>
<circle cx="106.2" cy="479.4" r="3.6" fill="#000080"/>
<circle cx="108.4" cy="489.6" r="3.6" fill="#000080"/>
<circle cx="117.2" cy="489.6" r="3.6" fill="#000080"/>
<circle cx="118.6" cy="478.2" r="3.6" fill="#000080"/>
<circle cx="121.5" cy="496.2" r="3.6" fill="#000080"/>
<circle cx="128.8" cy="478.2" r="3.6" fill="#000080"/>
<circle cx="128.8" cy="482.3" r="3.6" fill="#000080"/>
<circle cx="125.9" cy="488.2" r="3.6" fill="#000080"/>
<circle cx="125.9" cy="498.4" r="3.6" fill="#000080"/>
<circle cx="136.1" cy="478.7" r="3.6" fill="#000080"/>
<circle cx="137.6" cy="483.8" r="3.6" fill="#000080"/>
<circle cx="141.2" cy="471.4" r="3.6" fill="#000080"/>
<circle cx="146.4" cy="475.0" r="3.6" fill="#000080"/>
<circle cx="149.3" cy="469.2" r="3.6" fill="#000080"/>
<circle cx="149.3" cy="482.3" r="3.6" fill="#000080"/>
<circle cx="131.8" cy="489.6" r="3.6" fill="#000080"/>
<circle cx="136.1" cy="490.4" r="3.6" fill="#000080"/>
<circle cx="140.5" cy="488.2" r="3.6" fill="#000080"/>
<circle cx="144.9" cy="488.2" r="3.6" fill="#000080"/>
<circle cx="131.8" cy="495.5" r="3.6" fill="#000080"/>
<circle cx="136.1" cy="498.4" r="3.6" fill="#000080"/>
<circle cx="142.0" cy="499.9" r="3.6" fill="#000080"/>
<circle cx="146.4" cy="498.4" r="3.6" fill="#000080"/>
<circle cx="146.4" cy="492.6" r="3.6" fill="#000080"/>
<circle cx="141.5" cy="469.9" r="3.6" fill="#000080"/>
<circle cx="150.2" cy="469.9" r="3.6" fill="#000080"/>
<circle cx="161.9" cy="470.7" r="3.6" fill="#000080"/>
<circle cx="173.6" cy="469.9" r="3.6" fill="#000080"/>
<circle cx="183.1" cy="471.4" r="3.6" fill="#000080"/>
<circle cx="144.4" cy="476.5" r="3.6" fill="#000080"/>
<circle cx="150.2" cy="477.2" r="3.6" fill="#000080"/>
<circle cx="156.1" cy="477.2" r="3.6" fill="#000080"/>
<circle cx="166.3" cy="478.0" r="3.6" fill="#000080"/>
<circle cx="174.3" cy="477.2" r="3.6" fill="#000080"/>
<circle cx="180.9" cy="476.5" r="3.6" fill="#000080"/>
<circle cx="188.2" cy="478.0" r="3.6" fill="#000080"/>
<circle cx="142.2" cy="482.3" r="3.6" fill="#000080"/>
<circle cx="148.8" cy="482.3" r="3.6" fill="#000080"/>
<circle cx="154.6" cy="483.1" r="3.6" fill="#000080"/>
<circle cx="161.9" cy="483.8" r="3.6" fill="#000080"/>
<circle cx="173.6" cy="482.3" r="3.6" fill="#000080"/>
<circle cx="182.3" cy="482.3" r="3.6" fill="#000080"/>
<circle cx="188.2" cy="483.8" r="3.6" fill="#000080"/>
<circle cx="199.9" cy="481.6" r="3.6" fill="#000080"/>
<circle cx="204.2" cy="482.3" r="3.6" fill="#000080"/>
<circle cx="208.6" cy="483.8" r="3.6" fill="#000080"/>
<circle cx="215.9" cy="484.5" r="3.6" fill="#000080"/>
<circle cx="223.9" cy="483.1" r="3.6" fill="#000080"/>
<circle cx="142.9" cy="488.2" r="3.6" fill="#000080"/>
<circle cx="148.8" cy="488.9" r="3.6" fill="#000080"/>
<circle cx="156.1" cy="489.6" r="3.6" fill="#000080"/>
<circle cx="166.3" cy="489.6" r="3.6" fill="#000080"/>
<circle cx="176.5" cy="488.2" r="3.6" fill="#000080"/>
<circle cx="183.8" cy="488.2" r="3.6" fill="#000080"/>
<circle cx="189.6" cy="489.6" r="3.6" fill="#000080"/>
<circle cx="195.5" cy="489.6" r="3.6" fill="#000080"/>
<circle cx="201.3" cy="488.2" r="3.6" fill="#000080"/>
<circle cx="207.2" cy="488.2" r="3.6" fill="#000080"/>
<circle cx="213.0" cy="488.2" r="3.6" fill="#000080"/>
<circle cx="218.8" cy="489.6" r="3.6" fill="#000080"/>
<circle cx="229.1" cy="488.2" r="3.6" fill="#000080"/>
<circle cx="234.9" cy="489.6" r="3.6" fill="#000080"/>
<circle cx="142.9" cy="494.0" r="3.6" fill="#000080"/>
<circle cx="148.8" cy="494.7" r="3.6" fill="#000080"/>
<circle cx="159.0" cy="494.7" r="3.6" fill="#000080"/>
<circle cx="166.3" cy="494.0" r="3.6" fill="#000080"/>
<circle cx="175.0" cy="493.3" r="3.6" fill="#000080"/>
<circle cx="182.3" cy="494.0" r="3.6" fill="#000080"/>
<circle cx="189.6" cy="494.7" r="3.6" fill="#000080"/>
<circle cx="196.9" cy="494.0" r="3.6" fill="#000080"/>
<circle cx="202.8" cy="494.0" r="3.6" fill="#000080"/>
<circle cx="208.6" cy="493.3" r="3.6" fill="#000080"/>
<circle cx="215.9" cy="494.0" r="3.6" fill="#000080"/>
<circle cx="221.8" cy="495.5" r="3.6" fill="#000080"/>
<circle cx="227.6" cy="492.6" r="3.6" fill="#000080"/>
<circle cx="233.4" cy="494.0" r="3.6" fill="#000080"/>
<circle cx="239.3" cy="494.0" r="3.6" fill="#000080"/>
<circle cx="142.9" cy="499.1" r="3.6" fill="#000080"/>
<circle cx="150.2" cy="498.4" r="3.6" fill="#000080"/>
<circle cx="156.1" cy="497.7" r="3.6" fill="#000080"/>
<circle cx="164.8" cy="499.1" r="3.6" fill="#000080"/>
<circle cx="175.0" cy="497.7" r="3.6" fill="#000080"/>
<circle cx="180.9" cy="499.1" r="3.6" fill="#000080"/>
<circle cx="186.7" cy="499.1" r="3.6" fill="#000080"/>
<circle cx="194.0" cy="498.4" r="3.6" fill="#000080"/>
<circle cx="201.3" cy="499.1" r="3.6" fill="#000080"/>
<circle cx="210.1" cy="498.4" r="3.6" fill="#000080"/>
<circle cx="218.8" cy="496.9" r="3.6" fill="#000080"/>
<circle cx="221.8" cy="453.1" r="3.6" fill="#000080"/>
<circle cx="214.5" cy="456.1" r="3.6" fill="#000080"/>
<circle cx="215.9" cy="462.6" r="3.6" fill="#000080"/>
<circle cx="237.8" cy="472.1" r="3.6" fill="#000080"/>
<circle cx="233.4" cy="478.0" r="3.6" fill="#000080"/>
<circle cx="232.2" cy="490.4" r="3.6" fill="#000080"/>
<circle cx="238.0" cy="489.6" r="3.6" fill="#000080"/>
<circle cx="244.6" cy="488.9" r="3.6" fill="#000080"/>
<circle cx="251.9" cy="488.9" r="3.6" fill="#000080"/>
<circle cx="260.7" cy="489.6" r="3.6" fill="#000080"/>
<circle cx="268.0" cy="490.4" r="3.6" fill="#000080"/>
<circle cx="275.3" cy="489.6" r="3.6" fill="#000080"/>
<circle cx="282.6" cy="489.6" r="3.6" fill="#000080"/>
<circle cx="289.9" cy="489.6" r="3.6" fill="#000080"/>
<circle cx="297.2" cy="490.4" r="3.6" fill="#000080"/>
<circle cx="305.9" cy="490.4" r="3.6" fill="#000080"/>
<circle cx="313.2" cy="489.6" r="3.6" fill="#000080"/>
<circle cx="320.5" cy="490.4" r="3.6" fill="#000080"/>
<circle cx="327.8" cy="489.6" r="3.6" fill="#000080"/>
<circle cx="232.9" cy="495.5" r="3.6" fill="#000080"/>
<circle cx="238.8" cy="494.7" r="3.6" fill="#000080"/>
<circle cx="249.0" cy="495.5" r="3.6" fill="#000080"/>
<circle cx="256.3" cy="496.2" r="3.6" fill="#000080"/>
<circle cx="262.1" cy="495.5" r="3.6" fill="#000080"/>
<circle cx="269.4" cy="495.5" r="3.6" fill="#000080"/>
<circle cx="276.7" cy="496.2" r="3.6" fill="#000080"/>
<circle cx="284.0" cy="495.5" r="3.6" fill="#000080"/>
<circle cx="291.3" cy="496.2" r="3.6" fill="#000080"/>
<circle cx="298.6" cy="495.5" r="3.6" fill="#000080"/>
<circle cx="305.9" cy="495.5" r="3.6" fill="#000080"/>
<circle cx="311.8" cy="495.5" r="3.6" fill="#000080"/>
<circle cx="319.1" cy="495.5" r="3.6" fill="#000080"/>
<circle cx="326.4" cy="494.7" r="3.6" fill="#000080"/>
<circle cx="260.7" cy="499.9" r="3.6" fill="#000080"/>
<circle cx="276.7" cy="499.9" r="3.6" fill="#000080"/>
<circle cx="285.5" cy="499.1" r="3.6" fill="#000080"/>
<circle cx="303.0" cy="499.9" r="3.6" fill="#000080"/>
<circle cx="311.8" cy="499.9" r="3.6" fill="#000080"/>
<circle cx="232.2" cy="478.0" r="3.6" fill="#000080"/>
<circle cx="238.8" cy="477.2" r="3.6" fill="#000080"/>
<circle cx="248.2" cy="478.2" r="3.6" fill="#000080"/>
<circle cx="257.7" cy="478.7" r="3.6" fill="#000080"/>
<circle cx="323.4" cy="479.4" r="3.6" fill="#000080"/>
<circle cx="232.9" cy="483.8" r="3.6" fill="#000080"/>
<circle cx="238.8" cy="483.8" r="3.6" fill="#000080"/>
<circle cx="338.2" cy="470.7" r="3.6" fill="#000080"/>
<circle cx="333.9" cy="480.9" r="3.6" fill="#000080"/>
<circle cx="328.8" cy="491.8" r="3.6" fill="#000080"/>
<circle cx="341.9" cy="491.1" r="3.6" fill="#000080"/>
<circle cx="347.7" cy="491.1" r="3.6" fill="#000080"/>
<circle cx="356.5" cy="491.1" r="3.6" fill="#000080"/>
<circle cx="337.5" cy="497.7" r="3.6" fill="#000080"/>
<circle cx="346.3" cy="499.1" r="3.6" fill="#000080"/>
<circle cx="355.0" cy="498.4" r="3.6" fill="#000080"/>
<circle cx="371.1" cy="475.8" r="3.6" fill="#000080"/>
<circle cx="378.4" cy="476.5" r="3.6" fill="#000080"/>
<circle cx="382.8" cy="472.8" r="3.6" fill="#000080"/>
<circle cx="383.5" cy="462.6" r="3.6" fill="#000080"/>
<circle cx="390.1" cy="471.4" r="3.6" fill="#000080"/>
<circle cx="395.9" cy="467.7" r="3.6" fill="#000080"/>
<circle cx="399.6" cy="475.0" r="3.6" fill="#000080"/>
<circle cx="403.9" cy="468.5" r="3.6" fill="#000080"/>
<circle cx="414.9" cy="469.9" r="3.6" fill="#000080"/>
<circle cx="419.3" cy="469.2" r="3.6" fill="#000080"/>
<circle cx="410.5" cy="478.0" r="3.6" fill="#000080"/>
<circle cx="416.4" cy="478.7" r="3.6" fill="#000080"/>
<circle cx="398.8" cy="485.3" r="3.6" fill="#000080"/>
<circle cx="384.2" cy="486.7" r="3.6" fill="#000080"/>
<circle cx="390.1" cy="486.7" r="3.6" fill="#000080"/>
<circle cx="372.6" cy="489.6" r="3.6" fill="#000080"/>
<circle cx="368.9" cy="493.3" r="3.6" fill="#000080"/>
<circle cx="372.6" cy="498.4" r="3.6" fill="#000080"/>
<circle cx="390.1" cy="492.6" r="3.6" fill="#000080"/>
<circle cx="394.5" cy="492.6" r="3.6" fill="#000080"/>
<circle cx="401.8" cy="499.1" r="3.6" fill="#000080"/>
<circle cx="407.6" cy="499.1" r="3.6" fill="#000080"/>
<circle cx="413.4" cy="499.1" r="3.6" fill="#000080"/>
<circle cx="419.3" cy="498.4" r="3.6" fill="#000080"/>
<circle cx="397.4" cy="495.5" r="3.6" fill="#000080"/>
<circle cx="491.8" cy="454.6" r="3.6" fill="#000080"/>
<circle cx="423.1" cy="472.8" r="3.6" fill="#000080"/>
<circle cx="431.9" cy="470.7" r="3.6" fill="#000080"/>
<circle cx="439.2" cy="472.1" r="3.6" fill="#000080"/>
<circle cx="445.8" cy="470.7" r="3.6" fill="#000080"/>
<circle cx="453.1" cy="471.4" r="3.6" fill="#000080"/>
<circle cx="423.9" cy="478.0" r="3.6" fill="#000080"/>
<circle cx="448.7" cy="479.4" r="3.6" fill="#000080"/>
<circle cx="456.7" cy="476.5" r="3.6" fill="#000080"/>
<circle cx="456.7" cy="482.3" r="3.6" fill="#000080"/>
<circle cx="466.9" cy="480.1" r="3.6" fill="#000080"/>
<circle cx="472.0" cy="479.4" r="3.6" fill="#000080"/>
<circle cx="462.6" cy="483.8" r="3.6" fill="#000080"/>
<circle cx="471.3" cy="485.3" r="3.6" fill="#000080"/>
<circle cx="477.2" cy="489.6" r="3.6" fill="#000080"/>
<circle cx="483.0" cy="494.0" r="3.6" fill="#000080"/>
<circle cx="421.7" cy="499.1" r="3.6" fill="#000080"/>
<circle cx="429.7" cy="499.1" r="3.6" fill="#000080"/>
<circle cx="435.5" cy="499.1" r="3.6" fill="#000080"/>
<circle cx="443.6" cy="499.1" r="3.6" fill="#000080"/>
<circle cx="450.1" cy="499.1" r="3.6" fill="#000080"/>
<circle cx="472.8" cy="498.4" r="3.6" fill="#000080"/>
<circle cx="478.6" cy="499.1" r="3.6" fill="#000080"/>
<circle cx="486.6" cy="499.1" r="3.6" fill="#000080"/>
<circle cx="491.8" cy="492.6" r="3.6" fill="#000080"/>
<circle cx="497.6" cy="494.0" r="3.6" fill="#000080"/>
<circle cx="502.0" cy="498.4" r="3.6" fill="#000080"/>
<circle cx="504.9" cy="491.1" r="3.6" fill="#000080"/>
<circle cx="509.3" cy="491.8" r="3.6" fill="#000080"/>
<circle cx="481.5" cy="465.5" r="3.6" fill="#000080"/>
<circle cx="481.5" cy="472.8" r="3.6" fill="#000080"/>
<circle cx="481.5" cy="480.1" r="3.6" fill="#000080"/>
<circle cx="487.4" cy="482.3" r="3.6" fill="#000080"/>
<circle cx="489.6" cy="467.0" r="3.6" fill="#000080"/>
<circle cx="492.5" cy="472.1" r="3.6" fill="#000080"/>
<circle cx="491.8" cy="477.2" r="3.6" fill="#000080"/>
<circle cx="500.5" cy="461.2" r="3.6" fill="#000080"/>
<circle cx="501.2" cy="467.7" r="3.6" fill="#000080"/>
<circle cx="500.5" cy="475.0" r="3.6" fill="#000080"/>
<circle cx="500.5" cy="482.3" r="3.6" fill="#000080"/>
<circle cx="507.1" cy="482.3" r="3.6" fill="#000080"/>
<circle cx="509.3" cy="476.5" r="3.6" fill="#000080"/>
<circle cx="501.5" cy="460.9" r="3.6" fill="#000080"/>
<circle cx="501.5" cy="468.2" r="3.6" fill="#000080"/>
<circle cx="501.5" cy="475.5" r="3.6" fill="#000080"/>
<circle cx="502.9" cy="481.3" r="3.6" fill="#000080"/>
<circle cx="508.8" cy="482.8" r="3.6" fill="#000080"/>
<circle cx="502.9" cy="491.5" r="3.6" fill="#000080"/>
<circle cx="510.2" cy="491.5" r="3.6" fill="#000080"/>
<circle cx="502.9" cy="498.8" r="3.6" fill="#000080"/>
<circle cx="521.9" cy="487.2" r="3.6" fill="#000080"/>
<circle cx="524.8" cy="495.9" r="3.6" fill="#000080"/>
<circle cx="533.6" cy="481.3" r="3.6" fill="#000080"/>
<circle cx="533.6" cy="493.0" r="3.6" fill="#000080"/>
<circle cx="539.4" cy="493.0" r="3.6" fill="#000080"/>
<circle cx="533.6" cy="498.8" r="3.6" fill="#000080"/>
<circle cx="540.9" cy="498.8" r="3.6" fill="#000080"/>
<circle cx="546.7" cy="499.6" r="3.6" fill="#000080"/>
<circle cx="539.4" cy="472.6" r="3.6" fill="#000080"/>
<circle cx="548.9" cy="474.7" r="3.6" fill="#000080"/>
<circle cx="551.1" cy="466.7" r="3.6" fill="#000080"/>
<circle cx="555.5" cy="465.3" r="3.6" fill="#000080"/>
<circle cx="559.9" cy="468.2" r="3.6" fill="#000080"/>
<circle cx="564.2" cy="462.3" r="3.6" fill="#000080"/>
<circle cx="571.5" cy="463.1" r="3.6" fill="#000080"/>
<circle cx="573.0" cy="478.4" r="3.6" fill="#000080"/>
<circle cx="578.8" cy="479.9" r="3.6" fill="#000080"/>
<circle cx="580.3" cy="458.7" r="3.6" fill="#000080"/>
<circle cx="589.8" cy="455.8" r="3.6" fill="#000080"/>
<circle cx="597.8" cy="456.5" r="3.6" fill="#000080"/>
<circle cx="568.6" cy="488.6" r="3.6" fill="#000080"/>
<circle cx="560.6" cy="493.7" r="3.6" fill="#000080"/>
<circle cx="584.7" cy="487.9" r="3.6" fill="#000080"/>
<circle cx="591.2" cy="487.2" r="3.6" fill="#000080"/>
<circle cx="597.1" cy="490.8" r="3.6" fill="#000080"/>
<circle cx="633.2" cy="454.3" r="3.6" fill="#000080"/>
<circle cx="650.7" cy="456.5" r="3.6" fill="#000080"/>
<circle cx="602.5" cy="489.8" r="3.6" fill="#000080"/>
<circle cx="617.1" cy="488.3" r="3.6" fill="#000080"/>
<circle cx="621.5" cy="487.2" r="3.6" fill="#000080"/>
<circle cx="622.2" cy="492.3" r="3.6" fill="#000080"/>
<circle cx="626.6" cy="491.5" r="3.6" fill="#000080"/>
<circle cx="633.2" cy="489.3" r="3.6" fill="#000080"/>
<circle cx="653.6" cy="490.1" r="3.6" fill="#000080"/>
<circle cx="648.5" cy="495.2" r="3.6" fill="#000080"/>
<circle cx="597.4" cy="490.8" r="3.6" fill="#000080"/>
<circle cx="325.4" cy="426.9" r="3.6" fill="#87CEFA"/>
<circle cx="333.3" cy="427.8" r="3.6" fill="#87CEFA"/>
<circle cx="342.9" cy="429.6" r="3.6" fill="#87CEFA"/>
<circle cx="360.4" cy="427.8" r="3.6" fill="#87CEFA"/>
<circle cx="370.1" cy="426.9" r="3.6" fill="#87CEFA"/>
<circle cx="377.1" cy="422.6" r="3.6" fill="#87CEFA"/>
<circle cx="384.1" cy="422.6" r="3.6" fill="#87CEFA"/>
<circle cx="385.0" cy="427.8" r="3.6" fill="#87CEFA"/>
<circle cx="391.1" cy="422.6" r="3.6" fill="#87CEFA"/>
<circle cx="399.0" cy="427.5" r="3.6" fill="#87CEFA"/>
<circle cx="396.4" cy="435.2" r="3.6" fill="#87CEFA"/>
<circle cx="382.3" cy="441.8" r="3.6" fill="#87CEFA"/>
<circle cx="361.3" cy="447.1" r="3.6" fill="#87CEFA"/>
<circle cx="300.9" cy="439.2" r="3.6" fill="#87CEFA"/>
<circle cx="314.9" cy="431.3" r="3.6" fill="#87CEFA"/>
<circle cx="321.9" cy="432.2" r="3.6" fill="#87CEFA"/>
<circle cx="322.8" cy="437.4" r="3.6" fill="#87CEFA"/>
<circle cx="315.8" cy="440.1" r="3.6" fill="#87CEFA"/>
<circle cx="328.0" cy="443.6" r="3.6" fill="#87CEFA"/>
<circle cx="316.6" cy="446.2" r="3.6" fill="#87CEFA"/>
<circle cx="307.0" cy="448.8" r="3.6" fill="#87CEFA"/>
<circle cx="424.5" cy="438.3" r="3.6" fill="#87CEFA"/>
<circle cx="465.4" cy="430.6" r="3.6" fill="#87CEFA"/>
<circle cx="471.2" cy="435.3" r="3.6" fill="#87CEFA"/>
<circle cx="478.3" cy="432.9" r="3.6" fill="#87CEFA"/>
<circle cx="479.4" cy="424.7" r="3.6" fill="#87CEFA"/>
<circle cx="488.8" cy="434.1" r="3.6" fill="#87CEFA"/>
<circle cx="488.8" cy="441.1" r="3.6" fill="#87CEFA"/>
<circle cx="482.9" cy="443.4" r="3.6" fill="#87CEFA"/>
<circle cx="481.8" cy="452.8" r="3.6" fill="#87CEFA"/>
<circle cx="482.9" cy="457.5" r="3.6" fill="#87CEFA"/>
<circle cx="460.7" cy="446.2" r="3.6" fill="#87CEFA"/>
<circle cx="459.6" cy="452.8" r="3.6" fill="#87CEFA"/>
<circle cx="456.1" cy="456.3" r="3.6" fill="#87CEFA"/>
<circle cx="500.4" cy="425.9" r="3.6" fill="#87CEFA"/>
<circle cx="502.8" cy="430.6" r="3.6" fill="#87CEFA"/>
<circle cx="506.3" cy="435.3" r="3.6" fill="#87CEFA"/>
<circle cx="513.3" cy="435.3" r="3.6" fill="#87CEFA"/>
<circle cx="502.8" cy="439.9" r="3.6" fill="#87CEFA"/>
<circle cx="509.8" cy="441.1" r="3.6" fill="#87CEFA"/>
<circle cx="515.6" cy="442.3" r="3.6" fill="#87CEFA"/>
<circle cx="522.6" cy="445.8" r="3.6" fill="#87CEFA"/>
<circle cx="521.5" cy="452.8" r="3.6" fill="#87CEFA"/>
<circle cx="539.0" cy="430.6" r="3.6" fill="#87CEFA"/>
<circle cx="537.8" cy="435.3" r="3.6" fill="#87CEFA"/>
<circle cx="533.1" cy="448.1" r="3.6" fill="#87CEFA"/>
<circle cx="550.7" cy="443.4" r="3.6" fill="#87CEFA"/>
<circle cx="558.8" cy="443.4" r="3.6" fill="#87CEFA"/>
<circle cx="491.1" cy="449.3" r="3.6" fill="#87CEFA"/>
<circle cx="239.5" cy="424.9" r="3.6" fill="#87CEFA"/>
<circle cx="253.4" cy="427.0" r="3.6" fill="#87CEFA"/>
<circle cx="221.7" cy="434.3" r="3.6" fill="#87CEFA"/>
<circle cx="222.3" cy="438.4" r="3.6" fill="#87CEFA"/>
<circle cx="213.5" cy="442.9" r="3.6" fill="#87CEFA"/>
<circle cx="217.6" cy="443.9" r="3.6" fill="#87CEFA"/>
<circle cx="239.5" cy="449.0" r="3.6" fill="#87CEFA"/>
<circle cx="255.4" cy="443.9" r="3.6" fill="#87CEFA"/>
<circle cx="251.3" cy="449.0" r="3.6" fill="#87CEFA"/>
<circle cx="259.5" cy="453.5" r="3.6" fill="#87CEFA"/>
<circle cx="264.6" cy="459.3" r="3.6" fill="#87CEFA"/>
<circle cx="233.9" cy="459.3" r="3.6" fill="#87CEFA"/>
<circle cx="240.1" cy="460.3" r="3.6" fill="#87CEFA"/>
<circle cx="245.6" cy="460.3" r="3.6" fill="#87CEFA"/>
<circle cx="203.3" cy="458.2" r="3.6" fill="#87CEFA"/>
<circle cx="207.4" cy="459.3" r="3.6" fill="#87CEFA"/>
<circle cx="212.5" cy="460.3" r="3.6" fill="#87CEFA"/>
<circle cx="208.4" cy="467.4" r="3.6" fill="#87CEFA"/>
<circle cx="214.5" cy="468.5" r="3.6" fill="#87CEFA"/>
<circle cx="220.7" cy="468.5" r="3.6" fill="#87CEFA"/>
<circle cx="267.7" cy="448.0" r="3.6" fill="#87CEFA"/>
<circle cx="273.8" cy="448.6" r="3.6" fill="#87CEFA"/>
<circle cx="287.1" cy="439.2" r="3.6" fill="#87CEFA"/>
<circle cx="294.2" cy="439.2" r="3.6" fill="#87CEFA"/>
<circle cx="299.3" cy="439.2" r="3.6" fill="#87CEFA"/>
<circle cx="284.0" cy="459.3" r="3.6" fill="#87CEFA"/>
<circle cx="290.1" cy="453.5" r="3.6" fill="#87CEFA"/>
<circle cx="295.3" cy="452.7" r="3.6" fill="#87CEFA"/>
<circle cx="301.4" cy="451.1" r="3.6" fill="#87CEFA"/>
<circle cx="305.5" cy="450.7" r="3.6" fill="#87CEFA"/>
<circle cx="310.6" cy="450.7" r="3.6" fill="#87CEFA"/>
<circle cx="314.7" cy="439.9" r="3.6" fill="#87CEFA"/>
<circle cx="315.7" cy="432.7" r="3.6" fill="#87CEFA"/>
<circle cx="316.7" cy="447.0" r="3.6" fill="#87CEFA"/>
<circle cx="317.7" cy="455.2" r="3.6" fill="#87CEFA"/>
<circle cx="315.7" cy="461.3" r="3.6" fill="#87CEFA"/>
<circle cx="317.7" cy="465.4" r="3.6" fill="#87CEFA"/>
<circle cx="323.9" cy="465.0" r="3.6" fill="#87CEFA"/>
<circle cx="305.5" cy="466.4" r="3.6" fill="#87CEFA"/>
<circle cx="324.9" cy="436.8" r="3.6" fill="#87CEFA"/>
<circle cx="213.0" cy="443.6" r="3.6" fill="#87CEFA"/>
<circle cx="217.4" cy="444.4" r="3.6" fill="#87CEFA"/>
<circle cx="222.5" cy="440.7" r="3.6" fill="#87CEFA"/>
<circle cx="202.8" cy="458.2" r="3.6" fill="#87CEFA"/>
<circle cx="207.2" cy="458.2" r="3.6" fill="#87CEFA"/>
<circle cx="212.3" cy="460.4" r="3.6" fill="#87CEFA"/>
<circle cx="207.9" cy="467.0" r="3.6" fill="#87CEFA"/>
<circle cx="214.5" cy="467.7" r="3.6" fill="#87CEFA"/>
<circle cx="221.0" cy="468.5" r="3.6" fill="#87CEFA"/>
<circle cx="234.2" cy="459.0" r="3.6" fill="#87CEFA"/>
<circle cx="239.3" cy="459.7" r="3.6" fill="#87CEFA"/>
<circle cx="238.5" cy="449.5" r="3.6" fill="#87CEFA"/>
<circle cx="328.0" cy="443.6" r="3.6" fill="#87CEFA"/>
<circle cx="334.6" cy="453.9" r="3.6" fill="#87CEFA"/>
<circle cx="351.4" cy="463.4" r="3.6" fill="#87CEFA"/>
<circle cx="360.9" cy="456.8" r="3.6" fill="#87CEFA"/>
<circle cx="371.1" cy="465.5" r="3.6" fill="#87CEFA"/>
<circle cx="375.5" cy="466.3" r="3.6" fill="#87CEFA"/>
<circle cx="380.6" cy="467.0" r="3.6" fill="#87CEFA"/>
<circle cx="453.8" cy="456.1" r="3.6" fill="#87CEFA"/>
<circle cx="457.4" cy="459.7" r="3.6" fill="#87CEFA"/>
<circle cx="436.3" cy="465.1" r="3.6" fill="#87CEFA"/>
<circle cx="497.6" cy="441.5" r="3.6" fill="#87CEFA"/>
<circle cx="522.6" cy="450.7" r="3.6" fill="#87CEFA"/>
<circle cx="521.9" cy="455.0" r="3.6" fill="#87CEFA"/>
<circle cx="521.2" cy="460.1" r="3.6" fill="#87CEFA"/>
<circle cx="520.4" cy="464.5" r="3.6" fill="#87CEFA"/>
<circle cx="525.5" cy="471.1" r="3.6" fill="#87CEFA"/>
<circle cx="521.9" cy="477.7" r="3.6" fill="#87CEFA"/>
<circle cx="533.6" cy="476.9" r="3.6" fill="#87CEFA"/>
<circle cx="538.0" cy="467.4" r="3.6" fill="#87CEFA"/>
<circle cx="566.4" cy="458.0" r="3.6" fill="#87CEFA"/>
<circle cx="567.2" cy="471.8" r="3.6" fill="#87CEFA"/>
<circle cx="397.4" cy="447.6" r="3.6" fill="#87CEFA"/>
<circle cx="317.5" cy="377.9" r="3.6" fill="#00FF00"/>
<circle cx="349.1" cy="383.7" r="3.6" fill="#00FF00"/>
<circle cx="320.1" cy="395.4" r="3.6" fill="#00FF00"/>
<circle cx="326.3" cy="394.5" r="3.6" fill="#00FF00"/>
<circle cx="338.5" cy="396.3" r="3.6" fill="#00FF00"/>
<circle cx="343.8" cy="396.3" r="3.6" fill="#00FF00"/>
<circle cx="331.5" cy="399.8" r="3.6" fill="#00FF00"/>
<circle cx="324.5" cy="406.8" r="3.6" fill="#00FF00"/>
<circle cx="335.0" cy="407.7" r="3.6" fill="#00FF00"/>
<circle cx="329.8" cy="413.8" r="3.6" fill="#00FF00"/>
<circle cx="324.5" cy="417.3" r="3.6" fill="#00FF00"/>
<circle cx="347.3" cy="407.7" r="3.6" fill="#00FF00"/>
<circle cx="343.8" cy="413.8" r="3.6" fill="#00FF00"/>
<circle cx="346.4" cy="417.3" r="3.6" fill="#00FF00"/>
<circle cx="314.9" cy="425.2" r="3.6" fill="#00FF00"/>
<circle cx="360.4" cy="421.7" r="3.6" fill="#00FF00"/>
<circle cx="390.2" cy="415.2" r="3.6" fill="#00FF00"/>
<circle cx="413.0" cy="430.4" r="3.6" fill="#00FF00"/>
<circle cx="435.5" cy="415.9" r="3.6" fill="#00FF00"/>
<circle cx="486.9" cy="408.4" r="3.6" fill="#00FF00"/>
<circle cx="481.8" cy="412.6" r="3.6" fill="#00FF00"/>
<circle cx="482.2" cy="421.2" r="3.6" fill="#00FF00"/>
<circle cx="487.6" cy="425.2" r="3.6" fill="#00FF00"/>
<circle cx="504.6" cy="425.2" r="3.6" fill="#00FF00"/>
<circle cx="511.0" cy="426.6" r="3.6" fill="#00FF00"/>
<circle cx="515.6" cy="426.6" r="3.6" fill="#00FF00"/>
<circle cx="423.4" cy="430.1" r="3.6" fill="#00FF00"/>
<circle cx="450.2" cy="430.6" r="3.6" fill="#00FF00"/>
<circle cx="317.5" cy="371.8" r="3.6" fill="#FFA500"/>
<circle cx="321.9" cy="377.1" r="3.6" fill="#FFA500"/>
<circle cx="338.9" cy="365.7" r="3.6" fill="#FFA500"/>
<circle cx="354.0" cy="368.0" r="3.6" fill="#FFA500"/>
<circle cx="371.8" cy="375.3" r="3.6" fill="#FFA500"/>
<circle cx="411.8" cy="371.0" r="3.6" fill="#FFA500"/>
<circle cx="391.1" cy="385.4" r="3.6" fill="#FFA500"/>
<circle cx="350.8" cy="397.2" r="3.6" fill="#FFA500"/>
<circle cx="356.9" cy="398.0" r="3.6" fill="#FFA500"/>
<circle cx="357.8" cy="403.3" r="3.6" fill="#FFA500"/>
<circle cx="369.2" cy="407.7" r="3.6" fill="#FFA500"/>
<circle cx="367.4" cy="411.2" r="3.6" fill="#FFA500"/>
<circle cx="365.7" cy="415.6" r="3.6" fill="#FFA500"/>
<circle cx="362.2" cy="419.9" r="3.6" fill="#FFA500"/>
<circle cx="366.6" cy="419.1" r="3.6" fill="#FFA500"/>
<circle cx="424.5" cy="368.2" r="3.6" fill="#FFA500"/>
<circle cx="438.5" cy="364.5" r="3.6" fill="#FFA500"/>
<circle cx="453.3" cy="381.5" r="3.6" fill="#FFA500"/>
<circle cx="362.2" cy="342.9" r="3.6" fill="#FF0000"/>
<circle cx="364.8" cy="347.3" r="3.6" fill="#FF0000"/>
<circle cx="360.4" cy="350.8" r="3.6" fill="#FF0000"/>
<circle cx="370.1" cy="352.6" r="3.6" fill="#FF0000"/>
<circle cx="377.1" cy="341.2" r="3.6" fill="#FF0000"/>
<circle cx="380.6" cy="339.4" r="3.6" fill="#FF0000"/>
<circle cx="384.1" cy="342.0" r="3.6" fill="#FF0000"/>
<circle cx="371.8" cy="364.8" r="3.6" fill="#FF0000"/>
</g>
<path d="M370.2 331.0L374.8 335.9L370.2 340.79999999999995L365.59999999999997 335.9Z" fill="#9632B8" stroke="#222" stroke-width="0.9"/>
<text x="321.2" y="328.3" class="ax2" textLength="98.5" lengthAdjust="spacingAndGlyphs">chr11:104229609</text>
<rect x="53.5" y="521.6" width="611.1" height="24.2" fill="none" stroke="#666" stroke-width="1"/>
<text x="366.7" y="535" text-anchor="middle" class="eq">eQTL</text>
<rect x="361" y="536.8" width="12" height="5.2" rx="2.6" fill="#D800D8"/>
<rect x="360.9" y="550.5" width="22.9" height="171" fill="#FFD6D6"/>
<path d="M53.5 721.5V550.3H664.6V721.5" fill="none" stroke="#aaa" stroke-width="1"/>
<text x="107.8" y="563.3" class="gn" textLength="34.0" lengthAdjust="spacingAndGlyphs">EGFL7</text>
<path d="M142.0 558.6H148.1V556.8L153.6 559.4L148.1 562.0V560.2H142.0Z" fill="#111"/>
<text x="95.8" y="587.8" class="gn" textLength="59.4" lengthAdjust="spacingAndGlyphs">bta−mir−126</text>
<path d="M155.4 583.1H161.9V581.3L167.4 583.9L161.9 586.5V584.7H155.4Z" fill="#111"/>
<text x="138.6" y="612.2" class="gn" textLength="39.7" lengthAdjust="spacingAndGlyphs">AGPAT2</text>
<path d="M137.4 607.5H131.3V605.7L125.8 608.3L131.3 610.9V609.1H137.4Z" fill="#111"/>
<text x="220.5" y="563.3" class="gn" textLength="40.6" lengthAdjust="spacingAndGlyphs">FAM69B</text>
<path d="M261.6 558.6H268.0V556.8L273.5 559.4L268.0 562.0V560.2H261.6Z" fill="#111"/>
<text x="240.7" y="587.8" class="gn" textLength="49.6" lengthAdjust="spacingAndGlyphs">SNORA17</text>
<path d="M239.2 583.1H233.3V581.3L227.8 583.9L233.3 586.5V584.7H239.2Z" fill="#111"/>
<text x="253.5" y="612.2" class="gn" textLength="36.8" lengthAdjust="spacingAndGlyphs">UnChar</text>
<path d="M251.6 607.5H245.4V605.7L239.9 608.3L245.4 610.9V609.1H251.6Z" fill="#111"/>
<text x="394.7" y="563.3" class="gn" textLength="21.9" lengthAdjust="spacingAndGlyphs">ABO</text>
<path d="M391.8 558.6H387.1V556.8L381.6 559.4L387.1 562.0V560.2H391.8Z" fill="#111"/>
<text x="374.3" y="587.8" class="gn" textLength="13.9" lengthAdjust="spacingAndGlyphs">U6</text>
<path d="M388.4 583.1H394.4V581.3L399.9 583.9L394.4 586.5V584.7H388.4Z" fill="#111"/>
<text x="530.0" y="563.3" class="gn" textLength="34.9" lengthAdjust="spacingAndGlyphs">SURF6</text>
<path d="M528.6 558.6H522.3V556.8L516.8 559.4L522.3 562.0V560.2H528.6Z" fill="#111"/>
<text x="591.7" y="563.3" class="gn" textLength="34.7" lengthAdjust="spacingAndGlyphs">SURF1</text>
<path d="M590.4 558.6H584.9V556.8L579.4 559.4L584.9 562.0V560.2H590.4Z" fill="#111"/>
<text x="551.0" y="587.8" class="gn" textLength="36.0" lengthAdjust="spacingAndGlyphs">MED22</text>
<path d="M549.7 583.1H543.3V581.3L537.8 583.9L543.3 586.5V584.7H549.7Z" fill="#111"/>
<text x="612.7" y="587.8" class="gn" textLength="38.1" lengthAdjust="spacingAndGlyphs">C9orf96</text>
<path d="M651.0 583.1H657.1V581.3L662.6 583.9L657.1 586.5V584.7H651.0Z" fill="#111"/>
<text x="553.6" y="612.2" class="gn" textLength="33.4" lengthAdjust="spacingAndGlyphs">RPL7A</text>
<path d="M587.4 607.5H593.5V605.7L599.0 608.3L593.5 610.9V609.1H587.4Z" fill="#111"/>
<text x="543.9" y="636.5" class="gn" textLength="49.1" lengthAdjust="spacingAndGlyphs">SNORD24</text>
<path d="M593.4 631.8H600.1V630.0L605.6 632.6L600.1 635.2V633.4H593.4Z" fill="#111"/>
<text x="555.7" y="660.9" class="gn" textLength="31.3" lengthAdjust="spacingAndGlyphs">snR47</text>
<path d="M587.4 656.2H593.5V654.4L599.0 657.0L593.5 659.6V657.8H587.4Z" fill="#111"/>
<text x="547.8" y="685.5" class="gn" textLength="50.5" lengthAdjust="spacingAndGlyphs">SNORD36</text>
<path d="M598.6 680.8H604.6V679.0L610.1 681.6L604.6 684.2V682.4H598.6Z" fill="#111"/>
<text x="572.0" y="709.9" class="gn" textLength="35.0" lengthAdjust="spacingAndGlyphs">SURF2</text>
<path d="M607.4 705.2H613.8V703.4L619.3 706.0L613.8 708.6V706.8H607.4Z" fill="#111"/>
<rect x="128.4" y="565.4" width="1.6" height="4.6" fill="#1a1a80"/>
<rect x="128.8" y="590.4" width="1.2" height="3.4" fill="#1a1a80"/>
<line x1="138.2" y1="616.8" x2="167.4" y2="616.8" stroke="#1a1a80" stroke-width="1"/>
<rect x="138.0" y="615.3" width="1.2" height="3" fill="#1a1a80"/>
<rect x="140.0" y="615.3" width="1.2" height="3" fill="#1a1a80"/>
<circle cx="145.9" cy="616.8" r="1.9" fill="#1a1a80" style="stroke:none"/>
<rect x="166.6" y="615.2" width="1.2" height="3.2" fill="#1a1a80"/>
<line x1="239.9" y1="567.7" x2="251.6" y2="567.7" stroke="#1a1a80" stroke-width="1"/>
<rect x="239.6" y="566.2" width="1.2" height="3" fill="#1a1a80"/>
<rect x="245.8" y="566.1" width="5.8" height="3.2" fill="#1a1a80"/>
<rect x="257.6" y="590.8" width="1.2" height="2.6" fill="#1a1a80"/>
<rect x="260.8" y="590.8" width="1.2" height="2.6" fill="#1a1a80"/>
<rect x="264.9" y="615.1" width="1.4" height="3.4" fill="#1a1a80"/>
<line x1="376.8" y1="567.7" x2="423.5" y2="567.7" stroke="#1a1a80" stroke-width="1"/>
<rect x="376.6" y="566.0" width="2.6" height="3.4" fill="#1a1a80"/>
<rect x="391.4" y="566.2" width="1.4" height="3" fill="#1a1a80"/>
<rect x="399.5" y="566.2" width="1.5" height="3" fill="#1a1a80"/>
<rect x="402.2" y="566.1" width="2.0" height="3.2" fill="#1a1a80"/>
<rect x="406.2" y="566.2" width="1.2" height="3" fill="#1a1a80"/>
<rect x="412.6" y="566.2" width="1.2" height="3" fill="#1a1a80"/>
<rect x="421.6" y="566.1" width="2.0" height="3.2" fill="#1a1a80"/>
<rect x="385.1" y="590.4" width="1.2" height="3.4" fill="#1a1a80"/>
<line x1="533.4" y1="567.7" x2="549.7" y2="567.7" stroke="#1a1a80" stroke-width="1"/>
<rect x="532.4" y="565.9" width="5.4" height="3.6" fill="#1a1a80"/>
<circle cx="533.6" cy="567.7" r="2.0" fill="#1a1a80" style="stroke:none"/>
<circle cx="536.4" cy="567.7" r="2.0" fill="#1a1a80" style="stroke:none"/>
<circle cx="539.6" cy="567.7" r="1.9" fill="#1a1a80" style="stroke:none"/>
<rect x="549.0" y="566.0" width="1.3" height="3.4" fill="#1a1a80"/>
<line x1="579.9" y1="567.7" x2="627.2" y2="567.7" stroke="#1a1a80" stroke-width="1"/>
<rect x="579.6" y="566.0" width="11.0" height="3.4" fill="#1a1a80"/>
<circle cx="581" cy="567.7" r="1.9" fill="#1a1a80" style="stroke:none"/>
<circle cx="584.5" cy="567.7" r="1.9" fill="#1a1a80" style="stroke:none"/>
<circle cx="589" cy="567.7" r="1.9" fill="#1a1a80" style="stroke:none"/>
<rect x="595.2" y="566.2" width="1.2" height="3" fill="#1a1a80"/>
<rect x="602.1" y="565.9" width="8.8" height="3.6" fill="#1a1a80"/>
<circle cx="605" cy="567.7" r="2.0" fill="#1a1a80" style="stroke:none"/>
<circle cx="608.5" cy="567.7" r="2.0" fill="#1a1a80" style="stroke:none"/>
<rect x="626.4" y="566.0" width="1.3" height="3.4" fill="#1a1a80"/>
<line x1="554.4" y1="592.1" x2="572" y2="592.1" stroke="#1a1a80" stroke-width="1"/>
<circle cx="555.6" cy="592.1" r="1.9" fill="#1a1a80" style="stroke:none"/>
<rect x="559.5" y="590.5" width="1.5" height="3.2" fill="#1a1a80"/>
<circle cx="563.5" cy="592.1" r="1.8" fill="#1a1a80" style="stroke:none"/>
<rect x="565.5" y="590.5" width="1.5" height="3.2" fill="#1a1a80"/>
<circle cx="570.3" cy="592.1" r="1.9" fill="#1a1a80" style="stroke:none"/>
<line x1="643" y1="592.1" x2="664" y2="592.1" stroke="#1a1a80" stroke-width="1"/>
<rect x="642.8" y="590.6" width="1.2" height="3" fill="#1a1a80"/>
<rect x="646.6" y="590.6" width="2.0" height="3" fill="#1a1a80"/>
<rect x="652" y="590.5" width="3.0" height="3.2" fill="#1a1a80"/>
<rect x="661.6" y="590.5" width="2.6" height="3.2" fill="#1a1a80"/>
<rect x="570.7" y="615.2" width="9.7" height="3.2" fill="#1a1a80"/>
<rect x="572.9" y="639.0" width="1.8" height="3" fill="#1a1a80"/>
<rect x="576.0" y="663.3" width="1.2" height="3.4" fill="#1a1a80"/>
<rect x="577.1" y="688.3" width="1.4" height="3.4" fill="#1a1a80"/>
<line x1="589" y1="714.6" x2="599.6" y2="714.6" stroke="#1a1a80" stroke-width="1"/>
<rect x="588.8" y="713.1" width="1.4" height="3" fill="#1a1a80"/>
<rect x="592.6" y="712.9" width="7.2" height="3.4" fill="#1a1a80"/>
<line x1="53.6" y1="721.6" x2="664.9" y2="721.6" stroke="#555" stroke-width="1"/>
<line x1="53.6" y1="721.6" x2="53.6" y2="728.5" stroke="#555" stroke-width="1"/>
<text x="53.6" y="749" text-anchor="middle" class="ax">104.1</text>
<line x1="175.9" y1="721.6" x2="175.9" y2="728.5" stroke="#555" stroke-width="1"/>
<text x="175.9" y="749" text-anchor="middle" class="ax">104.15</text>
<line x1="298.1" y1="721.6" x2="298.1" y2="728.5" stroke="#555" stroke-width="1"/>
<text x="298.1" y="749" text-anchor="middle" class="ax">104.2</text>
<line x1="420.4" y1="721.6" x2="420.4" y2="728.5" stroke="#555" stroke-width="1"/>
<text x="420.4" y="749" text-anchor="middle" class="ax">104.25</text>
<line x1="542.6" y1="721.6" x2="542.6" y2="728.5" stroke="#555" stroke-width="1"/>
<text x="542.6" y="749" text-anchor="middle" class="ax">104.3</text>
<line x1="664.9" y1="721.6" x2="664.9" y2="728.5" stroke="#555" stroke-width="1"/>
<text x="664.9" y="749" text-anchor="middle" class="ax">104.35</text>
<text x="296" y="767" class="ax" textLength="127" lengthAdjust="spacingAndGlyphs">Position on chr11 (Mb)</text>
</svg></body></html>
